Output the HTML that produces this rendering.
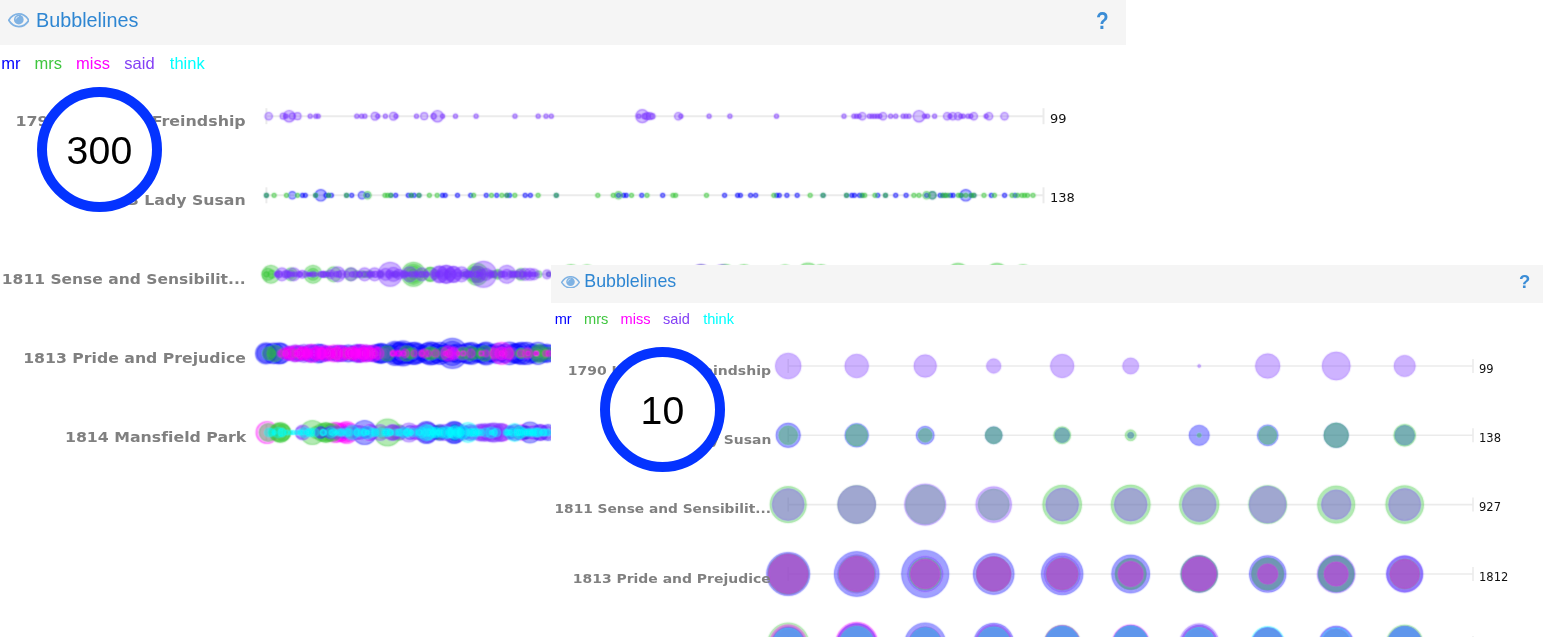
<!DOCTYPE html>
<html lang="en"><head><meta charset="utf-8"><title>Bubblelines</title>
<style>
html,body{margin:0;padding:0;background:#fff}
body{width:1543px;height:637px;position:relative;overflow:hidden;font-family:"Liberation Sans",sans-serif}
.panel{position:absolute;background:#fff;overflow:hidden}
.hdr{position:absolute;left:0;top:0;background:#f5f5f5}
.title{position:absolute;color:#2e86d2;white-space:nowrap}
.eye{position:absolute}
.help{position:absolute;color:#3b8dd6;font-weight:bold;font-family:"Liberation Sans",sans-serif}
.legend{position:absolute;left:0;white-space:nowrap}
.legend span{position:absolute;top:0}
.lbl{position:absolute;transform-origin:100% 50%;font-variant-ligatures:none;text-align:right;white-space:nowrap;color:#808080;font-weight:bold;font-family:"DejaVu Sans","Liberation Sans",sans-serif}
.val{position:absolute;color:#111;white-space:nowrap;font-family:"DejaVu Sans","Liberation Sans",sans-serif}
svg.chart{position:absolute;left:0;top:0}
.ring{position:absolute;box-sizing:border-box;border:10px solid #0433ff;border-radius:50%;background:#fff;width:125px;height:125px;text-align:center;color:#000;font-size:39.2px;line-height:107px;letter-spacing:0.2px;font-family:"Liberation Sans",sans-serif}
</style></head><body>

<div class="panel" id="panel1" style="left:0;top:0;width:1543px;height:637px">
<div class="hdr" style="width:1126px;height:45px"><svg class="eye" style="left:7.5px;top:13.4px;width:21.6px;height:14.6px" viewBox="0 0 28 18"><path d="M1 9 C5 2.5 9.5 0.8 14 0.8 C18.5 0.8 23 2.5 27 9 C23 15.5 18.5 17.2 14 17.2 C9.5 17.2 5 15.5 1 9 Z" fill="none" stroke="#7fb2e3" stroke-width="2.3"/><circle cx="14" cy="8.2" r="6.3" fill="#7fb2e3"/><path d="M10.2 7.4 A3.9 3.9 0 0 1 13.6 4" fill="none" stroke="#cfe2f5" stroke-width="1.3" stroke-linecap="round"/></svg><div class="title" id="t1" style="left:36px;top:8px;font-size:19.8px;line-height:24px">Bubblelines</div><div class="help" id="h1" style="left:1096px;top:8.5px;font-size:23px;line-height:24px;transform:scaleX(.9);transform-origin:0 0">?</div></div>
<div class="legend" id="l1" style="top:53px;font-size:16.5px;line-height:20px"><span style="left:1.2px;color:#0000ff">mr</span><span style="left:34.5px;color:#3fc63f">mrs</span><span style="left:76.1px;color:#ff00ff">miss</span><span style="left:124.3px;color:#8440f5">said</span><span style="left:169.8px;color:#00ffff">think</span></div>
<svg class="chart" width="1543" height="637" viewBox="0 0 1543 637"><defs><filter id="soft" x="-5%" y="-50%" width="110%" height="200%"><feConvolveMatrix order="3" kernelMatrix="0.04 0.11 0.04 0.11 0.40 0.11 0.04 0.11 0.04" divisor="1" edgeMode="none" preserveAlpha="false"/></filter></defs><line x1="266.4" y1="116.2" x2="1043.5" y2="116.2" stroke="#ebebeb" stroke-width="2"/>
<line x1="266.4" y1="108.2" x2="266.4" y2="124.2" stroke="#ebebeb" stroke-width="2"/>
<line x1="1043.5" y1="108.2" x2="1043.5" y2="124.2" stroke="#ebebeb" stroke-width="2"/>
<g filter="url(#soft)">
<circle cx="268.7" cy="116.2" r="3.7" fill="rgba(121,51,255,0.31)" stroke="rgba(121,51,255,0.58)" stroke-width="1.2"/>
<circle cx="283.2" cy="116.2" r="3.0" fill="rgba(121,51,255,0.31)" stroke="rgba(121,51,255,0.58)" stroke-width="1.2"/>
<circle cx="286.0" cy="116.2" r="2.0" fill="rgba(121,51,255,0.37)" stroke="rgba(121,51,255,0.70)" stroke-width="1.2"/>
<circle cx="289.2" cy="116.2" r="5.7" fill="rgba(121,51,255,0.31)" stroke="rgba(121,51,255,0.58)" stroke-width="1.2"/>
<circle cx="292.3" cy="116.2" r="3.0" fill="rgba(121,51,255,0.31)" stroke="rgba(121,51,255,0.58)" stroke-width="1.2"/>
<circle cx="297.5" cy="116.2" r="3.5" fill="rgba(121,51,255,0.31)" stroke="rgba(121,51,255,0.58)" stroke-width="1.2"/>
<circle cx="310.2" cy="116.2" r="2.0" fill="rgba(121,51,255,0.37)" stroke="rgba(121,51,255,0.70)" stroke-width="1.2"/>
<circle cx="315.9" cy="116.2" r="2.0" fill="rgba(121,51,255,0.37)" stroke="rgba(121,51,255,0.70)" stroke-width="1.2"/>
<circle cx="318.2" cy="116.2" r="2.0" fill="rgba(121,51,255,0.37)" stroke="rgba(121,51,255,0.70)" stroke-width="1.2"/>
<circle cx="356.8" cy="116.2" r="2.0" fill="rgba(121,51,255,0.37)" stroke="rgba(121,51,255,0.70)" stroke-width="1.2"/>
<circle cx="361.6" cy="116.2" r="2.0" fill="rgba(121,51,255,0.37)" stroke="rgba(121,51,255,0.70)" stroke-width="1.2"/>
<circle cx="364.9" cy="116.2" r="2.0" fill="rgba(121,51,255,0.37)" stroke="rgba(121,51,255,0.70)" stroke-width="1.2"/>
<circle cx="375.0" cy="116.2" r="3.9" fill="rgba(121,51,255,0.31)" stroke="rgba(121,51,255,0.58)" stroke-width="1.2"/>
<circle cx="377.8" cy="116.2" r="2.0" fill="rgba(121,51,255,0.37)" stroke="rgba(121,51,255,0.70)" stroke-width="1.2"/>
<circle cx="385.4" cy="116.2" r="2.0" fill="rgba(121,51,255,0.37)" stroke="rgba(121,51,255,0.70)" stroke-width="1.2"/>
<circle cx="393.4" cy="116.2" r="3.9" fill="rgba(121,51,255,0.31)" stroke="rgba(121,51,255,0.58)" stroke-width="1.2"/>
<circle cx="396.0" cy="116.2" r="2.0" fill="rgba(121,51,255,0.37)" stroke="rgba(121,51,255,0.70)" stroke-width="1.2"/>
<circle cx="416.5" cy="116.2" r="2.0" fill="rgba(121,51,255,0.37)" stroke="rgba(121,51,255,0.70)" stroke-width="1.2"/>
<circle cx="424.2" cy="116.2" r="3.5" fill="rgba(121,51,255,0.31)" stroke="rgba(121,51,255,0.58)" stroke-width="1.2"/>
<circle cx="433.6" cy="116.2" r="2.6" fill="rgba(121,51,255,0.37)" stroke="rgba(121,51,255,0.70)" stroke-width="1.2"/>
<circle cx="437.5" cy="116.2" r="5.7" fill="rgba(121,51,255,0.31)" stroke="rgba(121,51,255,0.58)" stroke-width="1.2"/>
<circle cx="442.6" cy="116.2" r="2.0" fill="rgba(121,51,255,0.37)" stroke="rgba(121,51,255,0.70)" stroke-width="1.2"/>
<circle cx="455.5" cy="116.2" r="2.0" fill="rgba(121,51,255,0.37)" stroke="rgba(121,51,255,0.70)" stroke-width="1.2"/>
<circle cx="476.1" cy="116.2" r="2.0" fill="rgba(121,51,255,0.37)" stroke="rgba(121,51,255,0.70)" stroke-width="1.2"/>
<circle cx="515.0" cy="116.2" r="2.0" fill="rgba(121,51,255,0.37)" stroke="rgba(121,51,255,0.70)" stroke-width="1.2"/>
<circle cx="538.2" cy="116.2" r="2.0" fill="rgba(121,51,255,0.37)" stroke="rgba(121,51,255,0.70)" stroke-width="1.2"/>
<circle cx="546.0" cy="116.2" r="2.0" fill="rgba(121,51,255,0.37)" stroke="rgba(121,51,255,0.70)" stroke-width="1.2"/>
<circle cx="551.3" cy="116.2" r="2.0" fill="rgba(121,51,255,0.37)" stroke="rgba(121,51,255,0.70)" stroke-width="1.2"/>
<circle cx="638.8" cy="116.2" r="2.0" fill="rgba(121,51,255,0.37)" stroke="rgba(121,51,255,0.70)" stroke-width="1.2"/>
<circle cx="642.3" cy="116.2" r="6.5" fill="rgba(121,51,255,0.31)" stroke="rgba(121,51,255,0.58)" stroke-width="1.2"/>
<circle cx="644.6" cy="116.2" r="2.6" fill="rgba(121,51,255,0.37)" stroke="rgba(121,51,255,0.70)" stroke-width="1.2"/>
<circle cx="647.2" cy="116.2" r="3.5" fill="rgba(121,51,255,0.31)" stroke="rgba(121,51,255,0.58)" stroke-width="1.2"/>
<circle cx="649.8" cy="116.2" r="3.5" fill="rgba(121,51,255,0.31)" stroke="rgba(121,51,255,0.58)" stroke-width="1.2"/>
<circle cx="652.4" cy="116.2" r="2.6" fill="rgba(121,51,255,0.37)" stroke="rgba(121,51,255,0.70)" stroke-width="1.2"/>
<circle cx="678.3" cy="116.2" r="3.7" fill="rgba(121,51,255,0.31)" stroke="rgba(121,51,255,0.58)" stroke-width="1.2"/>
<circle cx="680.9" cy="116.2" r="2.0" fill="rgba(121,51,255,0.37)" stroke="rgba(121,51,255,0.70)" stroke-width="1.2"/>
<circle cx="709.1" cy="116.2" r="2.0" fill="rgba(121,51,255,0.37)" stroke="rgba(121,51,255,0.70)" stroke-width="1.2"/>
<circle cx="729.9" cy="116.2" r="2.0" fill="rgba(121,51,255,0.37)" stroke="rgba(121,51,255,0.70)" stroke-width="1.2"/>
<circle cx="776.5" cy="116.2" r="2.0" fill="rgba(121,51,255,0.37)" stroke="rgba(121,51,255,0.70)" stroke-width="1.2"/>
<circle cx="844.0" cy="116.2" r="2.0" fill="rgba(121,51,255,0.37)" stroke="rgba(121,51,255,0.70)" stroke-width="1.2"/>
<circle cx="853.9" cy="116.2" r="2.0" fill="rgba(121,51,255,0.37)" stroke="rgba(121,51,255,0.70)" stroke-width="1.2"/>
<circle cx="856.5" cy="116.2" r="2.0" fill="rgba(121,51,255,0.37)" stroke="rgba(121,51,255,0.70)" stroke-width="1.2"/>
<circle cx="859.1" cy="116.2" r="2.0" fill="rgba(121,51,255,0.37)" stroke="rgba(121,51,255,0.70)" stroke-width="1.2"/>
<circle cx="862.3" cy="116.2" r="3.7" fill="rgba(121,51,255,0.31)" stroke="rgba(121,51,255,0.58)" stroke-width="1.2"/>
<circle cx="869.4" cy="116.2" r="2.0" fill="rgba(121,51,255,0.37)" stroke="rgba(121,51,255,0.70)" stroke-width="1.2"/>
<circle cx="872.0" cy="116.2" r="2.0" fill="rgba(121,51,255,0.37)" stroke="rgba(121,51,255,0.70)" stroke-width="1.2"/>
<circle cx="874.6" cy="116.2" r="2.0" fill="rgba(121,51,255,0.37)" stroke="rgba(121,51,255,0.70)" stroke-width="1.2"/>
<circle cx="877.2" cy="116.2" r="2.0" fill="rgba(121,51,255,0.37)" stroke="rgba(121,51,255,0.70)" stroke-width="1.2"/>
<circle cx="879.8" cy="116.2" r="2.0" fill="rgba(121,51,255,0.37)" stroke="rgba(121,51,255,0.70)" stroke-width="1.2"/>
<circle cx="883.0" cy="116.2" r="3.7" fill="rgba(121,51,255,0.31)" stroke="rgba(121,51,255,0.58)" stroke-width="1.2"/>
<circle cx="890.6" cy="116.2" r="2.0" fill="rgba(121,51,255,0.37)" stroke="rgba(121,51,255,0.70)" stroke-width="1.2"/>
<circle cx="895.8" cy="116.2" r="2.0" fill="rgba(121,51,255,0.37)" stroke="rgba(121,51,255,0.70)" stroke-width="1.2"/>
<circle cx="903.1" cy="116.2" r="2.0" fill="rgba(121,51,255,0.37)" stroke="rgba(121,51,255,0.70)" stroke-width="1.2"/>
<circle cx="906.0" cy="116.2" r="2.0" fill="rgba(121,51,255,0.37)" stroke="rgba(121,51,255,0.70)" stroke-width="1.2"/>
<circle cx="909.0" cy="116.2" r="2.0" fill="rgba(121,51,255,0.37)" stroke="rgba(121,51,255,0.70)" stroke-width="1.2"/>
<circle cx="919.0" cy="116.2" r="5.7" fill="rgba(121,51,255,0.31)" stroke="rgba(121,51,255,0.58)" stroke-width="1.2"/>
<circle cx="924.5" cy="116.2" r="2.0" fill="rgba(121,51,255,0.37)" stroke="rgba(121,51,255,0.70)" stroke-width="1.2"/>
<circle cx="927.5" cy="116.2" r="2.0" fill="rgba(121,51,255,0.37)" stroke="rgba(121,51,255,0.70)" stroke-width="1.2"/>
<circle cx="934.6" cy="116.2" r="2.0" fill="rgba(121,51,255,0.37)" stroke="rgba(121,51,255,0.70)" stroke-width="1.2"/>
<circle cx="947.2" cy="116.2" r="3.7" fill="rgba(121,51,255,0.31)" stroke="rgba(121,51,255,0.58)" stroke-width="1.2"/>
<circle cx="950.0" cy="116.2" r="2.0" fill="rgba(121,51,255,0.37)" stroke="rgba(121,51,255,0.70)" stroke-width="1.2"/>
<circle cx="952.8" cy="116.2" r="3.7" fill="rgba(121,51,255,0.31)" stroke="rgba(121,51,255,0.58)" stroke-width="1.2"/>
<circle cx="958.0" cy="116.2" r="3.7" fill="rgba(121,51,255,0.31)" stroke="rgba(121,51,255,0.58)" stroke-width="1.2"/>
<circle cx="960.8" cy="116.2" r="2.0" fill="rgba(121,51,255,0.37)" stroke="rgba(121,51,255,0.70)" stroke-width="1.2"/>
<circle cx="963.2" cy="116.2" r="2.0" fill="rgba(121,51,255,0.37)" stroke="rgba(121,51,255,0.70)" stroke-width="1.2"/>
<circle cx="968.0" cy="116.2" r="2.0" fill="rgba(121,51,255,0.37)" stroke="rgba(121,51,255,0.70)" stroke-width="1.2"/>
<circle cx="970.8" cy="116.2" r="2.0" fill="rgba(121,51,255,0.37)" stroke="rgba(121,51,255,0.70)" stroke-width="1.2"/>
<circle cx="973.8" cy="116.2" r="3.7" fill="rgba(121,51,255,0.31)" stroke="rgba(121,51,255,0.58)" stroke-width="1.2"/>
<circle cx="986.1" cy="116.2" r="2.0" fill="rgba(121,51,255,0.37)" stroke="rgba(121,51,255,0.70)" stroke-width="1.2"/>
<circle cx="989.0" cy="116.2" r="3.7" fill="rgba(121,51,255,0.31)" stroke="rgba(121,51,255,0.58)" stroke-width="1.2"/>
<circle cx="1004.5" cy="116.2" r="3.7" fill="rgba(121,51,255,0.31)" stroke="rgba(121,51,255,0.58)" stroke-width="1.2"/>
</g>
<line x1="266.4" y1="195.3" x2="1043.5" y2="195.3" stroke="#ebebeb" stroke-width="2"/>
<line x1="266.4" y1="187.3" x2="266.4" y2="203.3" stroke="#ebebeb" stroke-width="2"/>
<line x1="1043.5" y1="187.3" x2="1043.5" y2="203.3" stroke="#ebebeb" stroke-width="2"/>
<g filter="url(#soft)">
<circle cx="266.4" cy="195.3" r="2.0" fill="rgba(0,0,255,0.37)" stroke="rgba(0,0,255,0.70)" stroke-width="1.2"/>
<circle cx="292.3" cy="195.3" r="3.7" fill="rgba(0,0,255,0.31)" stroke="rgba(0,0,255,0.58)" stroke-width="1.2"/>
<circle cx="302.4" cy="195.3" r="2.0" fill="rgba(0,0,255,0.37)" stroke="rgba(0,0,255,0.70)" stroke-width="1.2"/>
<circle cx="305.3" cy="195.3" r="2.0" fill="rgba(0,0,255,0.37)" stroke="rgba(0,0,255,0.70)" stroke-width="1.2"/>
<circle cx="315.6" cy="195.3" r="2.0" fill="rgba(0,0,255,0.37)" stroke="rgba(0,0,255,0.70)" stroke-width="1.2"/>
<circle cx="320.8" cy="195.3" r="5.7" fill="rgba(0,0,255,0.31)" stroke="rgba(0,0,255,0.58)" stroke-width="1.2"/>
<circle cx="326.0" cy="195.3" r="2.0" fill="rgba(0,0,255,0.37)" stroke="rgba(0,0,255,0.70)" stroke-width="1.2"/>
<circle cx="328.6" cy="195.3" r="2.0" fill="rgba(0,0,255,0.37)" stroke="rgba(0,0,255,0.70)" stroke-width="1.2"/>
<circle cx="331.4" cy="195.3" r="2.0" fill="rgba(0,0,255,0.37)" stroke="rgba(0,0,255,0.70)" stroke-width="1.2"/>
<circle cx="346.5" cy="195.3" r="2.0" fill="rgba(0,0,255,0.37)" stroke="rgba(0,0,255,0.70)" stroke-width="1.2"/>
<circle cx="351.7" cy="195.3" r="2.0" fill="rgba(0,0,255,0.37)" stroke="rgba(0,0,255,0.70)" stroke-width="1.2"/>
<circle cx="362.0" cy="195.3" r="3.7" fill="rgba(0,0,255,0.31)" stroke="rgba(0,0,255,0.58)" stroke-width="1.2"/>
<circle cx="367.5" cy="195.3" r="2.0" fill="rgba(0,0,255,0.37)" stroke="rgba(0,0,255,0.70)" stroke-width="1.2"/>
<circle cx="390.8" cy="195.3" r="2.0" fill="rgba(0,0,255,0.37)" stroke="rgba(0,0,255,0.70)" stroke-width="1.2"/>
<circle cx="395.7" cy="195.3" r="2.0" fill="rgba(0,0,255,0.37)" stroke="rgba(0,0,255,0.70)" stroke-width="1.2"/>
<circle cx="408.3" cy="195.3" r="2.0" fill="rgba(0,0,255,0.37)" stroke="rgba(0,0,255,0.70)" stroke-width="1.2"/>
<circle cx="411.3" cy="195.3" r="2.0" fill="rgba(0,0,255,0.37)" stroke="rgba(0,0,255,0.70)" stroke-width="1.2"/>
<circle cx="414.1" cy="195.3" r="2.0" fill="rgba(0,0,255,0.37)" stroke="rgba(0,0,255,0.70)" stroke-width="1.2"/>
<circle cx="419.0" cy="195.3" r="2.0" fill="rgba(0,0,255,0.37)" stroke="rgba(0,0,255,0.70)" stroke-width="1.2"/>
<circle cx="442.4" cy="195.3" r="2.0" fill="rgba(0,0,255,0.37)" stroke="rgba(0,0,255,0.70)" stroke-width="1.2"/>
<circle cx="445.2" cy="195.3" r="2.0" fill="rgba(0,0,255,0.37)" stroke="rgba(0,0,255,0.70)" stroke-width="1.2"/>
<circle cx="457.5" cy="195.3" r="2.0" fill="rgba(0,0,255,0.37)" stroke="rgba(0,0,255,0.70)" stroke-width="1.2"/>
<circle cx="470.7" cy="195.3" r="2.0" fill="rgba(0,0,255,0.37)" stroke="rgba(0,0,255,0.70)" stroke-width="1.2"/>
<circle cx="486.3" cy="195.3" r="2.0" fill="rgba(0,0,255,0.37)" stroke="rgba(0,0,255,0.70)" stroke-width="1.2"/>
<circle cx="496.7" cy="195.3" r="2.0" fill="rgba(0,0,255,0.37)" stroke="rgba(0,0,255,0.70)" stroke-width="1.2"/>
<circle cx="507.0" cy="195.3" r="2.0" fill="rgba(0,0,255,0.37)" stroke="rgba(0,0,255,0.70)" stroke-width="1.2"/>
<circle cx="509.6" cy="195.3" r="2.0" fill="rgba(0,0,255,0.37)" stroke="rgba(0,0,255,0.70)" stroke-width="1.2"/>
<circle cx="525.2" cy="195.3" r="2.0" fill="rgba(0,0,255,0.37)" stroke="rgba(0,0,255,0.70)" stroke-width="1.2"/>
<circle cx="530.4" cy="195.3" r="2.0" fill="rgba(0,0,255,0.37)" stroke="rgba(0,0,255,0.70)" stroke-width="1.2"/>
<circle cx="556.3" cy="195.3" r="2.0" fill="rgba(0,0,255,0.37)" stroke="rgba(0,0,255,0.70)" stroke-width="1.2"/>
<circle cx="618.5" cy="195.3" r="2.0" fill="rgba(0,0,255,0.37)" stroke="rgba(0,0,255,0.70)" stroke-width="1.2"/>
<circle cx="623.7" cy="195.3" r="2.0" fill="rgba(0,0,255,0.37)" stroke="rgba(0,0,255,0.70)" stroke-width="1.2"/>
<circle cx="626.3" cy="195.3" r="2.0" fill="rgba(0,0,255,0.37)" stroke="rgba(0,0,255,0.70)" stroke-width="1.2"/>
<circle cx="641.8" cy="195.3" r="2.0" fill="rgba(0,0,255,0.37)" stroke="rgba(0,0,255,0.70)" stroke-width="1.2"/>
<circle cx="662.7" cy="195.3" r="2.0" fill="rgba(0,0,255,0.37)" stroke="rgba(0,0,255,0.70)" stroke-width="1.2"/>
<circle cx="724.6" cy="195.3" r="2.0" fill="rgba(0,0,255,0.37)" stroke="rgba(0,0,255,0.70)" stroke-width="1.2"/>
<circle cx="737.6" cy="195.3" r="2.0" fill="rgba(0,0,255,0.37)" stroke="rgba(0,0,255,0.70)" stroke-width="1.2"/>
<circle cx="740.4" cy="195.3" r="2.0" fill="rgba(0,0,255,0.37)" stroke="rgba(0,0,255,0.70)" stroke-width="1.2"/>
<circle cx="750.6" cy="195.3" r="2.0" fill="rgba(0,0,255,0.37)" stroke="rgba(0,0,255,0.70)" stroke-width="1.2"/>
<circle cx="755.7" cy="195.3" r="2.0" fill="rgba(0,0,255,0.37)" stroke="rgba(0,0,255,0.70)" stroke-width="1.2"/>
<circle cx="776.7" cy="195.3" r="2.0" fill="rgba(0,0,255,0.37)" stroke="rgba(0,0,255,0.70)" stroke-width="1.2"/>
<circle cx="779.3" cy="195.3" r="2.0" fill="rgba(0,0,255,0.37)" stroke="rgba(0,0,255,0.70)" stroke-width="1.2"/>
<circle cx="786.9" cy="195.3" r="2.0" fill="rgba(0,0,255,0.37)" stroke="rgba(0,0,255,0.70)" stroke-width="1.2"/>
<circle cx="797.2" cy="195.3" r="2.0" fill="rgba(0,0,255,0.37)" stroke="rgba(0,0,255,0.70)" stroke-width="1.2"/>
<circle cx="823.1" cy="195.3" r="2.0" fill="rgba(0,0,255,0.37)" stroke="rgba(0,0,255,0.70)" stroke-width="1.2"/>
<circle cx="846.5" cy="195.3" r="2.0" fill="rgba(0,0,255,0.37)" stroke="rgba(0,0,255,0.70)" stroke-width="1.2"/>
<circle cx="851.8" cy="195.3" r="2.0" fill="rgba(0,0,255,0.37)" stroke="rgba(0,0,255,0.70)" stroke-width="1.2"/>
<circle cx="854.4" cy="195.3" r="2.0" fill="rgba(0,0,255,0.37)" stroke="rgba(0,0,255,0.70)" stroke-width="1.2"/>
<circle cx="859.6" cy="195.3" r="2.0" fill="rgba(0,0,255,0.37)" stroke="rgba(0,0,255,0.70)" stroke-width="1.2"/>
<circle cx="862.1" cy="195.3" r="2.0" fill="rgba(0,0,255,0.37)" stroke="rgba(0,0,255,0.70)" stroke-width="1.2"/>
<circle cx="877.7" cy="195.3" r="2.0" fill="rgba(0,0,255,0.37)" stroke="rgba(0,0,255,0.70)" stroke-width="1.2"/>
<circle cx="885.5" cy="195.3" r="2.0" fill="rgba(0,0,255,0.37)" stroke="rgba(0,0,255,0.70)" stroke-width="1.2"/>
<circle cx="895.7" cy="195.3" r="2.0" fill="rgba(0,0,255,0.37)" stroke="rgba(0,0,255,0.70)" stroke-width="1.2"/>
<circle cx="906.1" cy="195.3" r="2.0" fill="rgba(0,0,255,0.37)" stroke="rgba(0,0,255,0.70)" stroke-width="1.2"/>
<circle cx="926.6" cy="195.3" r="2.0" fill="rgba(0,0,255,0.37)" stroke="rgba(0,0,255,0.70)" stroke-width="1.2"/>
<circle cx="932.4" cy="195.3" r="3.7" fill="rgba(0,0,255,0.31)" stroke="rgba(0,0,255,0.58)" stroke-width="1.2"/>
<circle cx="940.2" cy="195.3" r="2.0" fill="rgba(0,0,255,0.37)" stroke="rgba(0,0,255,0.70)" stroke-width="1.2"/>
<circle cx="942.8" cy="195.3" r="2.0" fill="rgba(0,0,255,0.37)" stroke="rgba(0,0,255,0.70)" stroke-width="1.2"/>
<circle cx="945.4" cy="195.3" r="2.0" fill="rgba(0,0,255,0.37)" stroke="rgba(0,0,255,0.70)" stroke-width="1.2"/>
<circle cx="950.5" cy="195.3" r="2.0" fill="rgba(0,0,255,0.37)" stroke="rgba(0,0,255,0.70)" stroke-width="1.2"/>
<circle cx="953.1" cy="195.3" r="2.0" fill="rgba(0,0,255,0.37)" stroke="rgba(0,0,255,0.70)" stroke-width="1.2"/>
<circle cx="961.0" cy="195.3" r="2.0" fill="rgba(0,0,255,0.37)" stroke="rgba(0,0,255,0.70)" stroke-width="1.2"/>
<circle cx="965.8" cy="195.3" r="5.7" fill="rgba(0,0,255,0.31)" stroke="rgba(0,0,255,0.58)" stroke-width="1.2"/>
<circle cx="971.3" cy="195.3" r="2.0" fill="rgba(0,0,255,0.37)" stroke="rgba(0,0,255,0.70)" stroke-width="1.2"/>
<circle cx="973.9" cy="195.3" r="2.0" fill="rgba(0,0,255,0.37)" stroke="rgba(0,0,255,0.70)" stroke-width="1.2"/>
<circle cx="991.4" cy="195.3" r="2.0" fill="rgba(0,0,255,0.37)" stroke="rgba(0,0,255,0.70)" stroke-width="1.2"/>
<circle cx="1004.6" cy="195.3" r="2.0" fill="rgba(0,0,255,0.37)" stroke="rgba(0,0,255,0.70)" stroke-width="1.2"/>
<circle cx="1015.1" cy="195.3" r="2.0" fill="rgba(0,0,255,0.37)" stroke="rgba(0,0,255,0.70)" stroke-width="1.2"/>
<circle cx="266.4" cy="195.3" r="2.0" fill="rgba(51,197,51,0.37)" stroke="rgba(51,197,51,0.70)" stroke-width="1.2"/>
<circle cx="274.1" cy="195.3" r="2.0" fill="rgba(51,197,51,0.37)" stroke="rgba(51,197,51,0.70)" stroke-width="1.2"/>
<circle cx="286.5" cy="195.3" r="2.0" fill="rgba(51,197,51,0.37)" stroke="rgba(51,197,51,0.70)" stroke-width="1.2"/>
<circle cx="297.5" cy="195.3" r="2.0" fill="rgba(51,197,51,0.37)" stroke="rgba(51,197,51,0.70)" stroke-width="1.2"/>
<circle cx="315.6" cy="195.3" r="2.0" fill="rgba(51,197,51,0.37)" stroke="rgba(51,197,51,0.70)" stroke-width="1.2"/>
<circle cx="328.6" cy="195.3" r="2.0" fill="rgba(51,197,51,0.37)" stroke="rgba(51,197,51,0.70)" stroke-width="1.2"/>
<circle cx="346.5" cy="195.3" r="2.0" fill="rgba(51,197,51,0.37)" stroke="rgba(51,197,51,0.70)" stroke-width="1.2"/>
<circle cx="367.5" cy="195.3" r="3.7" fill="rgba(51,197,51,0.31)" stroke="rgba(51,197,51,0.58)" stroke-width="1.2"/>
<circle cx="385.0" cy="195.3" r="2.0" fill="rgba(51,197,51,0.37)" stroke="rgba(51,197,51,0.70)" stroke-width="1.2"/>
<circle cx="387.6" cy="195.3" r="2.0" fill="rgba(51,197,51,0.37)" stroke="rgba(51,197,51,0.70)" stroke-width="1.2"/>
<circle cx="390.8" cy="195.3" r="2.0" fill="rgba(51,197,51,0.37)" stroke="rgba(51,197,51,0.70)" stroke-width="1.2"/>
<circle cx="411.3" cy="195.3" r="2.0" fill="rgba(51,197,51,0.37)" stroke="rgba(51,197,51,0.70)" stroke-width="1.2"/>
<circle cx="419.0" cy="195.3" r="2.0" fill="rgba(51,197,51,0.37)" stroke="rgba(51,197,51,0.70)" stroke-width="1.2"/>
<circle cx="429.4" cy="195.3" r="2.0" fill="rgba(51,197,51,0.37)" stroke="rgba(51,197,51,0.70)" stroke-width="1.2"/>
<circle cx="437.2" cy="195.3" r="2.0" fill="rgba(51,197,51,0.37)" stroke="rgba(51,197,51,0.70)" stroke-width="1.2"/>
<circle cx="473.6" cy="195.3" r="2.0" fill="rgba(51,197,51,0.37)" stroke="rgba(51,197,51,0.70)" stroke-width="1.2"/>
<circle cx="491.5" cy="195.3" r="2.0" fill="rgba(51,197,51,0.37)" stroke="rgba(51,197,51,0.70)" stroke-width="1.2"/>
<circle cx="501.8" cy="195.3" r="2.0" fill="rgba(51,197,51,0.37)" stroke="rgba(51,197,51,0.70)" stroke-width="1.2"/>
<circle cx="507.0" cy="195.3" r="2.0" fill="rgba(51,197,51,0.37)" stroke="rgba(51,197,51,0.70)" stroke-width="1.2"/>
<circle cx="514.8" cy="195.3" r="2.0" fill="rgba(51,197,51,0.37)" stroke="rgba(51,197,51,0.70)" stroke-width="1.2"/>
<circle cx="538.1" cy="195.3" r="2.0" fill="rgba(51,197,51,0.37)" stroke="rgba(51,197,51,0.70)" stroke-width="1.2"/>
<circle cx="556.3" cy="195.3" r="2.0" fill="rgba(51,197,51,0.37)" stroke="rgba(51,197,51,0.70)" stroke-width="1.2"/>
<circle cx="597.8" cy="195.3" r="2.0" fill="rgba(51,197,51,0.37)" stroke="rgba(51,197,51,0.70)" stroke-width="1.2"/>
<circle cx="613.3" cy="195.3" r="2.0" fill="rgba(51,197,51,0.37)" stroke="rgba(51,197,51,0.70)" stroke-width="1.2"/>
<circle cx="618.5" cy="195.3" r="3.7" fill="rgba(51,197,51,0.31)" stroke="rgba(51,197,51,0.58)" stroke-width="1.2"/>
<circle cx="631.5" cy="195.3" r="2.0" fill="rgba(51,197,51,0.37)" stroke="rgba(51,197,51,0.70)" stroke-width="1.2"/>
<circle cx="647.0" cy="195.3" r="2.0" fill="rgba(51,197,51,0.37)" stroke="rgba(51,197,51,0.70)" stroke-width="1.2"/>
<circle cx="673.0" cy="195.3" r="2.0" fill="rgba(51,197,51,0.37)" stroke="rgba(51,197,51,0.70)" stroke-width="1.2"/>
<circle cx="675.6" cy="195.3" r="2.0" fill="rgba(51,197,51,0.37)" stroke="rgba(51,197,51,0.70)" stroke-width="1.2"/>
<circle cx="706.5" cy="195.3" r="2.0" fill="rgba(51,197,51,0.37)" stroke="rgba(51,197,51,0.70)" stroke-width="1.2"/>
<circle cx="773.9" cy="195.3" r="2.0" fill="rgba(51,197,51,0.37)" stroke="rgba(51,197,51,0.70)" stroke-width="1.2"/>
<circle cx="810.2" cy="195.3" r="2.0" fill="rgba(51,197,51,0.37)" stroke="rgba(51,197,51,0.70)" stroke-width="1.2"/>
<circle cx="823.1" cy="195.3" r="2.0" fill="rgba(51,197,51,0.37)" stroke="rgba(51,197,51,0.70)" stroke-width="1.2"/>
<circle cx="846.5" cy="195.3" r="2.0" fill="rgba(51,197,51,0.37)" stroke="rgba(51,197,51,0.70)" stroke-width="1.2"/>
<circle cx="862.1" cy="195.3" r="2.0" fill="rgba(51,197,51,0.37)" stroke="rgba(51,197,51,0.70)" stroke-width="1.2"/>
<circle cx="864.7" cy="195.3" r="2.0" fill="rgba(51,197,51,0.37)" stroke="rgba(51,197,51,0.70)" stroke-width="1.2"/>
<circle cx="875.0" cy="195.3" r="2.0" fill="rgba(51,197,51,0.37)" stroke="rgba(51,197,51,0.70)" stroke-width="1.2"/>
<circle cx="885.5" cy="195.3" r="2.0" fill="rgba(51,197,51,0.37)" stroke="rgba(51,197,51,0.70)" stroke-width="1.2"/>
<circle cx="913.9" cy="195.3" r="2.0" fill="rgba(51,197,51,0.37)" stroke="rgba(51,197,51,0.70)" stroke-width="1.2"/>
<circle cx="919.0" cy="195.3" r="2.0" fill="rgba(51,197,51,0.37)" stroke="rgba(51,197,51,0.70)" stroke-width="1.2"/>
<circle cx="926.6" cy="195.3" r="3.7" fill="rgba(51,197,51,0.31)" stroke="rgba(51,197,51,0.58)" stroke-width="1.2"/>
<circle cx="932.4" cy="195.3" r="3.7" fill="rgba(51,197,51,0.31)" stroke="rgba(51,197,51,0.58)" stroke-width="1.2"/>
<circle cx="942.8" cy="195.3" r="2.0" fill="rgba(51,197,51,0.37)" stroke="rgba(51,197,51,0.70)" stroke-width="1.2"/>
<circle cx="945.4" cy="195.3" r="2.0" fill="rgba(51,197,51,0.37)" stroke="rgba(51,197,51,0.70)" stroke-width="1.2"/>
<circle cx="948.0" cy="195.3" r="2.0" fill="rgba(51,197,51,0.37)" stroke="rgba(51,197,51,0.70)" stroke-width="1.2"/>
<circle cx="958.3" cy="195.3" r="2.0" fill="rgba(51,197,51,0.37)" stroke="rgba(51,197,51,0.70)" stroke-width="1.2"/>
<circle cx="961.0" cy="195.3" r="2.0" fill="rgba(51,197,51,0.37)" stroke="rgba(51,197,51,0.70)" stroke-width="1.2"/>
<circle cx="965.8" cy="195.3" r="2.0" fill="rgba(51,197,51,0.37)" stroke="rgba(51,197,51,0.70)" stroke-width="1.2"/>
<circle cx="971.3" cy="195.3" r="2.0" fill="rgba(51,197,51,0.37)" stroke="rgba(51,197,51,0.70)" stroke-width="1.2"/>
<circle cx="973.9" cy="195.3" r="2.0" fill="rgba(51,197,51,0.37)" stroke="rgba(51,197,51,0.70)" stroke-width="1.2"/>
<circle cx="984.0" cy="195.3" r="2.0" fill="rgba(51,197,51,0.37)" stroke="rgba(51,197,51,0.70)" stroke-width="1.2"/>
<circle cx="994.4" cy="195.3" r="2.0" fill="rgba(51,197,51,0.37)" stroke="rgba(51,197,51,0.70)" stroke-width="1.2"/>
<circle cx="1012.1" cy="195.3" r="2.0" fill="rgba(51,197,51,0.37)" stroke="rgba(51,197,51,0.70)" stroke-width="1.2"/>
<circle cx="1017.5" cy="195.3" r="2.0" fill="rgba(51,197,51,0.37)" stroke="rgba(51,197,51,0.70)" stroke-width="1.2"/>
<circle cx="1022.0" cy="195.3" r="2.0" fill="rgba(51,197,51,0.37)" stroke="rgba(51,197,51,0.70)" stroke-width="1.2"/>
<circle cx="1024.6" cy="195.3" r="2.0" fill="rgba(51,197,51,0.37)" stroke="rgba(51,197,51,0.70)" stroke-width="1.2"/>
<circle cx="1027.5" cy="195.3" r="2.0" fill="rgba(51,197,51,0.37)" stroke="rgba(51,197,51,0.70)" stroke-width="1.2"/>
<circle cx="1033.0" cy="195.3" r="2.0" fill="rgba(51,197,51,0.37)" stroke="rgba(51,197,51,0.70)" stroke-width="1.2"/>
</g>
<line x1="266.4" y1="274.3" x2="1043.5" y2="274.3" stroke="#ebebeb" stroke-width="2"/>
<line x1="266.4" y1="266.3" x2="266.4" y2="282.3" stroke="#ebebeb" stroke-width="2"/>
<line x1="1043.5" y1="266.3" x2="1043.5" y2="282.3" stroke="#ebebeb" stroke-width="2"/>
<g filter="url(#soft)">
<circle cx="413.5" cy="274.3" r="12.0" fill="rgba(51,197,51,0.37)" stroke="rgba(51,197,51,0.42)" stroke-width="1.2"/>
<circle cx="808.0" cy="274.3" r="11.2" fill="rgba(51,197,51,0.37)" stroke="rgba(51,197,51,0.42)" stroke-width="1.2"/>
<circle cx="477.0" cy="274.3" r="11.0" fill="rgba(51,197,51,0.37)" stroke="rgba(51,197,51,0.42)" stroke-width="1.2"/>
<circle cx="958.0" cy="274.3" r="11.0" fill="rgba(51,197,51,0.37)" stroke="rgba(51,197,51,0.42)" stroke-width="1.2"/>
<circle cx="997.0" cy="274.3" r="11.0" fill="rgba(51,197,51,0.37)" stroke="rgba(51,197,51,0.42)" stroke-width="1.2"/>
<circle cx="725.0" cy="274.3" r="10.0" fill="rgba(51,197,51,0.37)" stroke="rgba(51,197,51,0.42)" stroke-width="1.2"/>
<circle cx="413.5" cy="274.3" r="10.0" fill="rgba(51,197,51,0.37)" stroke="rgba(51,197,51,0.42)" stroke-width="1.2"/>
<circle cx="571.0" cy="274.3" r="9.7" fill="rgba(51,197,51,0.37)" stroke="rgba(51,197,51,0.42)" stroke-width="1.2"/>
<circle cx="744.0" cy="274.3" r="9.7" fill="rgba(51,197,51,0.37)" stroke="rgba(51,197,51,0.42)" stroke-width="1.2"/>
<circle cx="821.0" cy="274.3" r="9.7" fill="rgba(51,197,51,0.37)" stroke="rgba(51,197,51,0.42)" stroke-width="1.2"/>
<circle cx="1023.0" cy="274.3" r="9.6" fill="rgba(51,197,51,0.37)" stroke="rgba(51,197,51,0.42)" stroke-width="1.2"/>
<circle cx="587.0" cy="274.3" r="9.5" fill="rgba(51,197,51,0.37)" stroke="rgba(51,197,51,0.42)" stroke-width="1.2"/>
<circle cx="701.0" cy="274.3" r="9.5" fill="rgba(51,197,51,0.37)" stroke="rgba(51,197,51,0.42)" stroke-width="1.2"/>
<circle cx="785.0" cy="274.3" r="9.5" fill="rgba(51,197,51,0.37)" stroke="rgba(51,197,51,0.42)" stroke-width="1.2"/>
<circle cx="270.9" cy="274.3" r="9.0" fill="rgba(51,197,51,0.37)" stroke="rgba(51,197,51,0.42)" stroke-width="1.2"/>
<circle cx="313.0" cy="274.3" r="9.0" fill="rgba(51,197,51,0.37)" stroke="rgba(51,197,51,0.42)" stroke-width="1.2"/>
<circle cx="477.0" cy="274.3" r="8.5" fill="rgba(51,197,51,0.37)" stroke="rgba(51,197,51,0.42)" stroke-width="1.2"/>
<circle cx="413.5" cy="274.3" r="8.0" fill="rgba(51,197,51,0.37)" stroke="rgba(51,197,51,0.42)" stroke-width="1.2"/>
<circle cx="475.0" cy="274.3" r="8.0" fill="rgba(51,197,51,0.37)" stroke="rgba(51,197,51,0.42)" stroke-width="1.2"/>
<circle cx="333.8" cy="274.3" r="7.5" fill="rgba(51,197,51,0.37)" stroke="rgba(51,197,51,0.42)" stroke-width="1.2"/>
<circle cx="430.3" cy="274.3" r="7.0" fill="rgba(51,197,51,0.37)" stroke="rgba(51,197,51,0.42)" stroke-width="1.2"/>
<circle cx="430.4" cy="274.3" r="7.0" fill="rgba(51,197,51,0.37)" stroke="rgba(51,197,51,0.42)" stroke-width="1.2"/>
<circle cx="291.0" cy="274.3" r="6.5" fill="rgba(51,197,51,0.37)" stroke="rgba(51,197,51,0.42)" stroke-width="1.2"/>
<circle cx="350.6" cy="274.3" r="6.5" fill="rgba(51,197,51,0.37)" stroke="rgba(51,197,51,0.42)" stroke-width="1.2"/>
<circle cx="313.0" cy="274.3" r="6.0" fill="rgba(51,197,51,0.37)" stroke="rgba(51,197,51,0.42)" stroke-width="1.2"/>
<circle cx="521.0" cy="274.3" r="6.0" fill="rgba(51,197,51,0.37)" stroke="rgba(51,197,51,0.42)" stroke-width="1.2"/>
<circle cx="268.0" cy="274.3" r="6.0" fill="rgba(51,197,51,0.37)" stroke="rgba(51,197,51,0.42)" stroke-width="1.2"/>
<circle cx="477.0" cy="274.3" r="6.0" fill="rgba(51,197,51,0.37)" stroke="rgba(51,197,51,0.42)" stroke-width="1.2"/>
<circle cx="497.8" cy="274.3" r="5.0" fill="rgba(51,197,51,0.37)" stroke="rgba(51,197,51,0.42)" stroke-width="1.2"/>
<circle cx="413.5" cy="274.3" r="5.0" fill="rgba(51,197,51,0.37)" stroke="rgba(51,197,51,0.42)" stroke-width="1.2"/>
<circle cx="272.0" cy="274.3" r="4.0" fill="rgba(51,197,51,0.37)" stroke="rgba(51,197,51,0.42)" stroke-width="1.2"/>
<circle cx="291.0" cy="274.3" r="4.0" fill="rgba(51,197,51,0.37)" stroke="rgba(51,197,51,0.42)" stroke-width="1.2"/>
<circle cx="512.5" cy="274.3" r="3.8" fill="rgba(51,197,51,0.37)" stroke="rgba(51,197,51,0.42)" stroke-width="1.2"/>
<circle cx="496.9" cy="274.3" r="3.8" fill="rgba(51,197,51,0.37)" stroke="rgba(51,197,51,0.42)" stroke-width="1.2"/>
<circle cx="370.0" cy="274.3" r="3.7" fill="rgba(51,197,51,0.37)" stroke="rgba(51,197,51,0.42)" stroke-width="1.2"/>
<circle cx="447.7" cy="274.3" r="3.6" fill="rgba(51,197,51,0.37)" stroke="rgba(51,197,51,0.42)" stroke-width="1.2"/>
<circle cx="357.1" cy="274.3" r="3.6" fill="rgba(51,197,51,0.37)" stroke="rgba(51,197,51,0.42)" stroke-width="1.2"/>
<circle cx="313.0" cy="274.3" r="3.5" fill="rgba(51,197,51,0.37)" stroke="rgba(51,197,51,0.42)" stroke-width="1.2"/>
<circle cx="494.3" cy="274.3" r="3.5" fill="rgba(51,197,51,0.37)" stroke="rgba(51,197,51,0.42)" stroke-width="1.2"/>
<circle cx="362.2" cy="274.3" r="3.5" fill="rgba(51,197,51,0.37)" stroke="rgba(51,197,51,0.42)" stroke-width="1.2"/>
<circle cx="491.8" cy="274.3" r="3.4" fill="rgba(51,197,51,0.37)" stroke="rgba(51,197,51,0.42)" stroke-width="1.2"/>
<circle cx="538.4" cy="274.3" r="3.4" fill="rgba(51,197,51,0.37)" stroke="rgba(51,197,51,0.42)" stroke-width="1.2"/>
<circle cx="424.4" cy="274.3" r="3.1" fill="rgba(51,197,51,0.37)" stroke="rgba(51,197,51,0.42)" stroke-width="1.2"/>
<circle cx="395.9" cy="274.3" r="3.0" fill="rgba(51,197,51,0.37)" stroke="rgba(51,197,51,0.42)" stroke-width="1.2"/>
<circle cx="367.4" cy="274.3" r="3.0" fill="rgba(51,197,51,0.37)" stroke="rgba(51,197,51,0.42)" stroke-width="1.2"/>
<circle cx="364.9" cy="274.3" r="3.0" fill="rgba(51,197,51,0.37)" stroke="rgba(51,197,51,0.42)" stroke-width="1.2"/>
<circle cx="326.0" cy="274.3" r="3.0" fill="rgba(51,197,51,0.37)" stroke="rgba(51,197,51,0.70)" stroke-width="1.2"/>
<circle cx="517.7" cy="274.3" r="2.9" fill="rgba(51,197,51,0.37)" stroke="rgba(51,197,51,0.70)" stroke-width="1.2"/>
<circle cx="465.9" cy="274.3" r="2.8" fill="rgba(51,197,51,0.37)" stroke="rgba(51,197,51,0.70)" stroke-width="1.2"/>
<circle cx="380.4" cy="274.3" r="2.7" fill="rgba(51,197,51,0.37)" stroke="rgba(51,197,51,0.70)" stroke-width="1.2"/>
<circle cx="266.4" cy="274.3" r="2.5" fill="rgba(51,197,51,0.37)" stroke="rgba(51,197,51,0.70)" stroke-width="1.2"/>
<circle cx="437.4" cy="274.3" r="2.4" fill="rgba(51,197,51,0.37)" stroke="rgba(51,197,51,0.70)" stroke-width="1.2"/>
<circle cx="414.0" cy="274.3" r="2.4" fill="rgba(51,197,51,0.37)" stroke="rgba(51,197,51,0.70)" stroke-width="1.2"/>
<circle cx="478.8" cy="274.3" r="2.4" fill="rgba(51,197,51,0.37)" stroke="rgba(51,197,51,0.70)" stroke-width="1.2"/>
<circle cx="463.3" cy="274.3" r="2.3" fill="rgba(51,197,51,0.37)" stroke="rgba(51,197,51,0.70)" stroke-width="1.2"/>
<circle cx="522.8" cy="274.3" r="2.3" fill="rgba(51,197,51,0.37)" stroke="rgba(51,197,51,0.70)" stroke-width="1.2"/>
<circle cx="406.3" cy="274.3" r="2.2" fill="rgba(51,197,51,0.37)" stroke="rgba(51,197,51,0.70)" stroke-width="1.2"/>
<circle cx="393.3" cy="274.3" r="2.1" fill="rgba(51,197,51,0.37)" stroke="rgba(51,197,51,0.70)" stroke-width="1.2"/>
<circle cx="548.7" cy="274.3" r="2.1" fill="rgba(51,197,51,0.37)" stroke="rgba(51,197,51,0.70)" stroke-width="1.2"/>
<circle cx="310.4" cy="274.3" r="2.0" fill="rgba(51,197,51,0.37)" stroke="rgba(51,197,51,0.70)" stroke-width="1.2"/>
<circle cx="483.5" cy="274.3" r="13.0" fill="rgba(121,51,255,0.37)" stroke="rgba(121,51,255,0.42)" stroke-width="1.2"/>
<circle cx="390.2" cy="274.3" r="12.0" fill="rgba(121,51,255,0.37)" stroke="rgba(121,51,255,0.42)" stroke-width="1.2"/>
<circle cx="701.0" cy="274.3" r="10.0" fill="rgba(121,51,255,0.37)" stroke="rgba(121,51,255,0.42)" stroke-width="1.2"/>
<circle cx="722.0" cy="274.3" r="9.6" fill="rgba(121,51,255,0.37)" stroke="rgba(121,51,255,0.42)" stroke-width="1.2"/>
<circle cx="446.5" cy="274.3" r="9.0" fill="rgba(121,51,255,0.37)" stroke="rgba(121,51,255,0.42)" stroke-width="1.2"/>
<circle cx="446.0" cy="274.3" r="9.0" fill="rgba(121,51,255,0.37)" stroke="rgba(121,51,255,0.42)" stroke-width="1.2"/>
<circle cx="506.8" cy="274.3" r="9.0" fill="rgba(121,51,255,0.37)" stroke="rgba(121,51,255,0.42)" stroke-width="1.2"/>
<circle cx="439.4" cy="274.3" r="8.5" fill="rgba(121,51,255,0.37)" stroke="rgba(121,51,255,0.42)" stroke-width="1.2"/>
<circle cx="440.0" cy="274.3" r="8.0" fill="rgba(121,51,255,0.37)" stroke="rgba(121,51,255,0.42)" stroke-width="1.2"/>
<circle cx="453.0" cy="274.3" r="8.0" fill="rgba(121,51,255,0.37)" stroke="rgba(121,51,255,0.42)" stroke-width="1.2"/>
<circle cx="453.7" cy="274.3" r="8.0" fill="rgba(121,51,255,0.37)" stroke="rgba(121,51,255,0.42)" stroke-width="1.2"/>
<circle cx="478.3" cy="274.3" r="8.0" fill="rgba(121,51,255,0.37)" stroke="rgba(121,51,255,0.42)" stroke-width="1.2"/>
<circle cx="337.7" cy="274.3" r="7.5" fill="rgba(121,51,255,0.37)" stroke="rgba(121,51,255,0.42)" stroke-width="1.2"/>
<circle cx="409.6" cy="274.3" r="7.5" fill="rgba(121,51,255,0.37)" stroke="rgba(121,51,255,0.42)" stroke-width="1.2"/>
<circle cx="461.5" cy="274.3" r="7.5" fill="rgba(121,51,255,0.37)" stroke="rgba(121,51,255,0.42)" stroke-width="1.2"/>
<circle cx="393.4" cy="274.3" r="7.0" fill="rgba(121,51,255,0.37)" stroke="rgba(121,51,255,0.42)" stroke-width="1.2"/>
<circle cx="281.9" cy="274.3" r="6.5" fill="rgba(121,51,255,0.37)" stroke="rgba(121,51,255,0.42)" stroke-width="1.2"/>
<circle cx="293.6" cy="274.3" r="6.5" fill="rgba(121,51,255,0.37)" stroke="rgba(121,51,255,0.42)" stroke-width="1.2"/>
<circle cx="351.3" cy="274.3" r="6.5" fill="rgba(121,51,255,0.37)" stroke="rgba(121,51,255,0.42)" stroke-width="1.2"/>
<circle cx="364.6" cy="274.3" r="6.5" fill="rgba(121,51,255,0.37)" stroke="rgba(121,51,255,0.42)" stroke-width="1.2"/>
<circle cx="374.6" cy="274.3" r="6.5" fill="rgba(121,51,255,0.37)" stroke="rgba(121,51,255,0.42)" stroke-width="1.2"/>
<circle cx="421.9" cy="274.3" r="6.5" fill="rgba(121,51,255,0.37)" stroke="rgba(121,51,255,0.42)" stroke-width="1.2"/>
<circle cx="385.6" cy="274.3" r="6.0" fill="rgba(121,51,255,0.37)" stroke="rgba(121,51,255,0.42)" stroke-width="1.2"/>
<circle cx="450.0" cy="274.3" r="6.0" fill="rgba(121,51,255,0.37)" stroke="rgba(121,51,255,0.42)" stroke-width="1.2"/>
<circle cx="486.0" cy="274.3" r="6.0" fill="rgba(121,51,255,0.37)" stroke="rgba(121,51,255,0.42)" stroke-width="1.2"/>
<circle cx="525.0" cy="274.3" r="6.0" fill="rgba(121,51,255,0.37)" stroke="rgba(121,51,255,0.42)" stroke-width="1.2"/>
<circle cx="530.0" cy="274.3" r="6.0" fill="rgba(121,51,255,0.37)" stroke="rgba(121,51,255,0.42)" stroke-width="1.2"/>
<circle cx="534.0" cy="274.3" r="5.5" fill="rgba(121,51,255,0.37)" stroke="rgba(121,51,255,0.42)" stroke-width="1.2"/>
<circle cx="398.6" cy="274.3" r="5.0" fill="rgba(121,51,255,0.37)" stroke="rgba(121,51,255,0.42)" stroke-width="1.2"/>
<circle cx="434.9" cy="274.3" r="5.0" fill="rgba(121,51,255,0.37)" stroke="rgba(121,51,255,0.42)" stroke-width="1.2"/>
<circle cx="443.0" cy="274.3" r="5.0" fill="rgba(121,51,255,0.37)" stroke="rgba(121,51,255,0.42)" stroke-width="1.2"/>
<circle cx="457.0" cy="274.3" r="5.0" fill="rgba(121,51,255,0.37)" stroke="rgba(121,51,255,0.42)" stroke-width="1.2"/>
<circle cx="465.0" cy="274.3" r="5.0" fill="rgba(121,51,255,0.37)" stroke="rgba(121,51,255,0.42)" stroke-width="1.2"/>
<circle cx="481.0" cy="274.3" r="5.0" fill="rgba(121,51,255,0.37)" stroke="rgba(121,51,255,0.42)" stroke-width="1.2"/>
<circle cx="506.8" cy="274.3" r="5.0" fill="rgba(121,51,255,0.37)" stroke="rgba(121,51,255,0.42)" stroke-width="1.2"/>
<circle cx="519.8" cy="274.3" r="5.0" fill="rgba(121,51,255,0.37)" stroke="rgba(121,51,255,0.42)" stroke-width="1.2"/>
<circle cx="330.5" cy="274.3" r="4.5" fill="rgba(121,51,255,0.37)" stroke="rgba(121,51,255,0.42)" stroke-width="1.2"/>
<circle cx="547.0" cy="274.3" r="4.5" fill="rgba(121,51,255,0.37)" stroke="rgba(121,51,255,0.42)" stroke-width="1.2"/>
<circle cx="286.5" cy="274.3" r="4.0" fill="rgba(121,51,255,0.37)" stroke="rgba(121,51,255,0.42)" stroke-width="1.2"/>
<circle cx="302.3" cy="274.3" r="4.0" fill="rgba(121,51,255,0.37)" stroke="rgba(121,51,255,0.42)" stroke-width="1.2"/>
<circle cx="341.5" cy="274.3" r="4.0" fill="rgba(121,51,255,0.37)" stroke="rgba(121,51,255,0.42)" stroke-width="1.2"/>
<circle cx="380.4" cy="274.3" r="4.0" fill="rgba(121,51,255,0.37)" stroke="rgba(121,51,255,0.42)" stroke-width="1.2"/>
<circle cx="390.0" cy="274.3" r="4.0" fill="rgba(121,51,255,0.37)" stroke="rgba(121,51,255,0.42)" stroke-width="1.2"/>
<circle cx="403.8" cy="274.3" r="4.0" fill="rgba(121,51,255,0.37)" stroke="rgba(121,51,255,0.42)" stroke-width="1.2"/>
<circle cx="449.0" cy="274.3" r="4.0" fill="rgba(121,51,255,0.37)" stroke="rgba(121,51,255,0.42)" stroke-width="1.2"/>
<circle cx="468.0" cy="274.3" r="4.0" fill="rgba(121,51,255,0.37)" stroke="rgba(121,51,255,0.42)" stroke-width="1.2"/>
<circle cx="490.0" cy="274.3" r="4.0" fill="rgba(121,51,255,0.37)" stroke="rgba(121,51,255,0.42)" stroke-width="1.2"/>
<circle cx="278.7" cy="274.3" r="3.5" fill="rgba(121,51,255,0.37)" stroke="rgba(121,51,255,0.42)" stroke-width="1.2"/>
<circle cx="279.4" cy="274.3" r="3.1" fill="rgba(121,51,255,0.37)" stroke="rgba(121,51,255,0.42)" stroke-width="1.2"/>
<circle cx="388.1" cy="274.3" r="3.1" fill="rgba(121,51,255,0.37)" stroke="rgba(121,51,255,0.42)" stroke-width="1.2"/>
<circle cx="509.9" cy="274.3" r="3.1" fill="rgba(121,51,255,0.37)" stroke="rgba(121,51,255,0.42)" stroke-width="1.2"/>
<circle cx="284.5" cy="274.3" r="3.1" fill="rgba(121,51,255,0.37)" stroke="rgba(121,51,255,0.42)" stroke-width="1.2"/>
<circle cx="395.9" cy="274.3" r="3.1" fill="rgba(121,51,255,0.37)" stroke="rgba(121,51,255,0.42)" stroke-width="1.2"/>
<circle cx="287.1" cy="274.3" r="3.1" fill="rgba(121,51,255,0.37)" stroke="rgba(121,51,255,0.42)" stroke-width="1.2"/>
<circle cx="354.5" cy="274.3" r="3.0" fill="rgba(121,51,255,0.37)" stroke="rgba(121,51,255,0.42)" stroke-width="1.2"/>
<circle cx="419.2" cy="274.3" r="3.0" fill="rgba(121,51,255,0.37)" stroke="rgba(121,51,255,0.42)" stroke-width="1.2"/>
<circle cx="298.8" cy="274.3" r="3.0" fill="rgba(121,51,255,0.37)" stroke="rgba(121,51,255,0.42)" stroke-width="1.2"/>
<circle cx="305.3" cy="274.3" r="3.0" fill="rgba(121,51,255,0.37)" stroke="rgba(121,51,255,0.42)" stroke-width="1.2"/>
<circle cx="322.8" cy="274.3" r="3.0" fill="rgba(121,51,255,0.37)" stroke="rgba(121,51,255,0.42)" stroke-width="1.2"/>
<circle cx="346.7" cy="274.3" r="3.0" fill="rgba(121,51,255,0.37)" stroke="rgba(121,51,255,0.42)" stroke-width="1.2"/>
<circle cx="359.0" cy="274.3" r="3.0" fill="rgba(121,51,255,0.37)" stroke="rgba(121,51,255,0.42)" stroke-width="1.2"/>
<circle cx="370.0" cy="274.3" r="3.0" fill="rgba(121,51,255,0.37)" stroke="rgba(121,51,255,0.42)" stroke-width="1.2"/>
<circle cx="395.0" cy="274.3" r="3.0" fill="rgba(121,51,255,0.37)" stroke="rgba(121,51,255,0.42)" stroke-width="1.2"/>
<circle cx="414.8" cy="274.3" r="3.0" fill="rgba(121,51,255,0.37)" stroke="rgba(121,51,255,0.42)" stroke-width="1.2"/>
<circle cx="426.0" cy="274.3" r="3.0" fill="rgba(121,51,255,0.37)" stroke="rgba(121,51,255,0.42)" stroke-width="1.2"/>
<circle cx="501.0" cy="274.3" r="3.0" fill="rgba(121,51,255,0.37)" stroke="rgba(121,51,255,0.42)" stroke-width="1.2"/>
<circle cx="512.7" cy="274.3" r="3.0" fill="rgba(121,51,255,0.37)" stroke="rgba(121,51,255,0.42)" stroke-width="1.2"/>
<circle cx="476.2" cy="274.3" r="3.0" fill="rgba(121,51,255,0.37)" stroke="rgba(121,51,255,0.70)" stroke-width="1.2"/>
<circle cx="323.4" cy="274.3" r="3.0" fill="rgba(121,51,255,0.37)" stroke="rgba(121,51,255,0.70)" stroke-width="1.2"/>
<circle cx="375.2" cy="274.3" r="3.0" fill="rgba(121,51,255,0.37)" stroke="rgba(121,51,255,0.70)" stroke-width="1.2"/>
<circle cx="502.1" cy="274.3" r="2.9" fill="rgba(121,51,255,0.37)" stroke="rgba(121,51,255,0.70)" stroke-width="1.2"/>
<circle cx="338.9" cy="274.3" r="2.9" fill="rgba(121,51,255,0.37)" stroke="rgba(121,51,255,0.70)" stroke-width="1.2"/>
<circle cx="421.8" cy="274.3" r="2.9" fill="rgba(121,51,255,0.37)" stroke="rgba(121,51,255,0.70)" stroke-width="1.2"/>
<circle cx="440.0" cy="274.3" r="2.9" fill="rgba(121,51,255,0.37)" stroke="rgba(121,51,255,0.70)" stroke-width="1.2"/>
<circle cx="494.3" cy="274.3" r="2.8" fill="rgba(121,51,255,0.37)" stroke="rgba(121,51,255,0.70)" stroke-width="1.2"/>
<circle cx="522.8" cy="274.3" r="2.8" fill="rgba(121,51,255,0.37)" stroke="rgba(121,51,255,0.70)" stroke-width="1.2"/>
<circle cx="447.7" cy="274.3" r="2.8" fill="rgba(121,51,255,0.37)" stroke="rgba(121,51,255,0.70)" stroke-width="1.2"/>
<circle cx="411.5" cy="274.3" r="2.8" fill="rgba(121,51,255,0.37)" stroke="rgba(121,51,255,0.70)" stroke-width="1.2"/>
<circle cx="364.8" cy="274.3" r="2.7" fill="rgba(121,51,255,0.37)" stroke="rgba(121,51,255,0.70)" stroke-width="1.2"/>
<circle cx="380.4" cy="274.3" r="2.7" fill="rgba(121,51,255,0.37)" stroke="rgba(121,51,255,0.70)" stroke-width="1.2"/>
<circle cx="471.0" cy="274.3" r="2.7" fill="rgba(121,51,255,0.37)" stroke="rgba(121,51,255,0.70)" stroke-width="1.2"/>
<circle cx="504.7" cy="274.3" r="2.7" fill="rgba(121,51,255,0.37)" stroke="rgba(121,51,255,0.70)" stroke-width="1.2"/>
<circle cx="515.1" cy="274.3" r="2.7" fill="rgba(121,51,255,0.37)" stroke="rgba(121,51,255,0.70)" stroke-width="1.2"/>
<circle cx="403.7" cy="274.3" r="2.6" fill="rgba(121,51,255,0.37)" stroke="rgba(121,51,255,0.70)" stroke-width="1.2"/>
<circle cx="336.3" cy="274.3" r="2.6" fill="rgba(121,51,255,0.37)" stroke="rgba(121,51,255,0.70)" stroke-width="1.2"/>
<circle cx="517.7" cy="274.3" r="2.6" fill="rgba(121,51,255,0.37)" stroke="rgba(121,51,255,0.70)" stroke-width="1.2"/>
<circle cx="320.8" cy="274.3" r="2.6" fill="rgba(121,51,255,0.37)" stroke="rgba(121,51,255,0.70)" stroke-width="1.2"/>
<circle cx="289.7" cy="274.3" r="2.5" fill="rgba(121,51,255,0.37)" stroke="rgba(121,51,255,0.70)" stroke-width="1.2"/>
<circle cx="512.5" cy="274.3" r="2.5" fill="rgba(121,51,255,0.37)" stroke="rgba(121,51,255,0.70)" stroke-width="1.2"/>
<circle cx="313.0" cy="274.3" r="2.5" fill="rgba(121,51,255,0.37)" stroke="rgba(121,51,255,0.70)" stroke-width="1.2"/>
<circle cx="406.3" cy="274.3" r="2.5" fill="rgba(121,51,255,0.37)" stroke="rgba(121,51,255,0.70)" stroke-width="1.2"/>
<circle cx="359.7" cy="274.3" r="2.5" fill="rgba(121,51,255,0.37)" stroke="rgba(121,51,255,0.70)" stroke-width="1.2"/>
<circle cx="351.9" cy="274.3" r="2.5" fill="rgba(121,51,255,0.37)" stroke="rgba(121,51,255,0.70)" stroke-width="1.2"/>
<circle cx="276.8" cy="274.3" r="2.4" fill="rgba(121,51,255,0.37)" stroke="rgba(121,51,255,0.70)" stroke-width="1.2"/>
<circle cx="528.0" cy="274.3" r="2.4" fill="rgba(121,51,255,0.37)" stroke="rgba(121,51,255,0.70)" stroke-width="1.2"/>
<circle cx="300.1" cy="274.3" r="2.4" fill="rgba(121,51,255,0.37)" stroke="rgba(121,51,255,0.70)" stroke-width="1.2"/>
<circle cx="372.6" cy="274.3" r="2.4" fill="rgba(121,51,255,0.37)" stroke="rgba(121,51,255,0.70)" stroke-width="1.2"/>
<circle cx="434.8" cy="274.3" r="2.4" fill="rgba(121,51,255,0.37)" stroke="rgba(121,51,255,0.70)" stroke-width="1.2"/>
<circle cx="328.6" cy="274.3" r="2.3" fill="rgba(121,51,255,0.37)" stroke="rgba(121,51,255,0.70)" stroke-width="1.2"/>
<circle cx="465.9" cy="274.3" r="2.3" fill="rgba(121,51,255,0.37)" stroke="rgba(121,51,255,0.70)" stroke-width="1.2"/>
<circle cx="491.8" cy="274.3" r="2.3" fill="rgba(121,51,255,0.37)" stroke="rgba(121,51,255,0.70)" stroke-width="1.2"/>
<circle cx="294.9" cy="274.3" r="2.3" fill="rgba(121,51,255,0.37)" stroke="rgba(121,51,255,0.70)" stroke-width="1.2"/>
<circle cx="468.4" cy="274.3" r="2.3" fill="rgba(121,51,255,0.37)" stroke="rgba(121,51,255,0.70)" stroke-width="1.2"/>
<circle cx="548.7" cy="274.3" r="2.2" fill="rgba(121,51,255,0.37)" stroke="rgba(121,51,255,0.70)" stroke-width="1.2"/>
<circle cx="533.2" cy="274.3" r="2.2" fill="rgba(121,51,255,0.37)" stroke="rgba(121,51,255,0.70)" stroke-width="1.2"/>
<circle cx="326.0" cy="274.3" r="2.2" fill="rgba(121,51,255,0.37)" stroke="rgba(121,51,255,0.70)" stroke-width="1.2"/>
<circle cx="331.2" cy="274.3" r="2.2" fill="rgba(121,51,255,0.37)" stroke="rgba(121,51,255,0.70)" stroke-width="1.2"/>
<circle cx="458.1" cy="274.3" r="2.2" fill="rgba(121,51,255,0.37)" stroke="rgba(121,51,255,0.70)" stroke-width="1.2"/>
<circle cx="292.3" cy="274.3" r="2.2" fill="rgba(121,51,255,0.37)" stroke="rgba(121,51,255,0.70)" stroke-width="1.2"/>
<circle cx="530.6" cy="274.3" r="2.1" fill="rgba(121,51,255,0.37)" stroke="rgba(121,51,255,0.70)" stroke-width="1.2"/>
<circle cx="427.0" cy="274.3" r="2.1" fill="rgba(121,51,255,0.37)" stroke="rgba(121,51,255,0.70)" stroke-width="1.2"/>
<circle cx="481.4" cy="274.3" r="2.1" fill="rgba(121,51,255,0.37)" stroke="rgba(121,51,255,0.70)" stroke-width="1.2"/>
<circle cx="370.0" cy="274.3" r="2.0" fill="rgba(121,51,255,0.37)" stroke="rgba(121,51,255,0.70)" stroke-width="1.2"/>
<circle cx="535.8" cy="274.3" r="2.0" fill="rgba(121,51,255,0.37)" stroke="rgba(121,51,255,0.70)" stroke-width="1.2"/>
<circle cx="525.4" cy="274.3" r="2.0" fill="rgba(121,51,255,0.37)" stroke="rgba(121,51,255,0.70)" stroke-width="1.2"/>
<circle cx="309.8" cy="274.3" r="2.0" fill="rgba(121,51,255,0.37)" stroke="rgba(121,51,255,0.70)" stroke-width="1.2"/>
<circle cx="315.6" cy="274.3" r="2.0" fill="rgba(121,51,255,0.37)" stroke="rgba(121,51,255,0.70)" stroke-width="1.2"/>
<circle cx="310.4" cy="274.3" r="2.0" fill="rgba(121,51,255,0.37)" stroke="rgba(121,51,255,0.70)" stroke-width="1.2"/>
<circle cx="408.9" cy="274.3" r="2.0" fill="rgba(121,51,255,0.37)" stroke="rgba(121,51,255,0.70)" stroke-width="1.2"/>
<circle cx="416.6" cy="274.3" r="2.0" fill="rgba(121,51,255,0.37)" stroke="rgba(121,51,255,0.70)" stroke-width="1.2"/>
<circle cx="437.4" cy="274.3" r="1.9" fill="rgba(121,51,255,0.37)" stroke="rgba(121,51,255,0.70)" stroke-width="1.2"/>
<circle cx="463.3" cy="274.3" r="1.9" fill="rgba(121,51,255,0.37)" stroke="rgba(121,51,255,0.70)" stroke-width="1.2"/>
<circle cx="478.8" cy="274.3" r="1.9" fill="rgba(121,51,255,0.37)" stroke="rgba(121,51,255,0.70)" stroke-width="1.2"/>
<circle cx="390.7" cy="274.3" r="1.9" fill="rgba(121,51,255,0.37)" stroke="rgba(121,51,255,0.70)" stroke-width="1.2"/>
<circle cx="489.2" cy="274.3" r="1.9" fill="rgba(121,51,255,0.37)" stroke="rgba(121,51,255,0.70)" stroke-width="1.2"/>
<circle cx="398.5" cy="274.3" r="1.9" fill="rgba(121,51,255,0.37)" stroke="rgba(121,51,255,0.70)" stroke-width="1.2"/>
<circle cx="307.8" cy="274.3" r="1.8" fill="rgba(121,51,255,0.37)" stroke="rgba(121,51,255,0.70)" stroke-width="1.2"/>
<circle cx="393.3" cy="274.3" r="1.8" fill="rgba(121,51,255,0.37)" stroke="rgba(121,51,255,0.70)" stroke-width="1.2"/>
</g>
<line x1="266.4" y1="353.4" x2="1043.5" y2="353.4" stroke="#ebebeb" stroke-width="2"/>
<line x1="266.4" y1="345.4" x2="266.4" y2="361.4" stroke="#ebebeb" stroke-width="2"/>
<line x1="1043.5" y1="345.4" x2="1043.5" y2="361.4" stroke="#ebebeb" stroke-width="2"/>
<g filter="url(#soft)">
<circle cx="452.4" cy="353.4" r="15.0" fill="rgba(0,0,255,0.37)" stroke="rgba(0,0,255,0.42)" stroke-width="1.2"/>
<circle cx="403.0" cy="353.4" r="12.5" fill="rgba(0,0,255,0.37)" stroke="rgba(0,0,255,0.42)" stroke-width="1.2"/>
<circle cx="395.0" cy="353.4" r="12.0" fill="rgba(0,0,255,0.37)" stroke="rgba(0,0,255,0.42)" stroke-width="1.2"/>
<circle cx="452.4" cy="353.4" r="12.0" fill="rgba(0,0,255,0.37)" stroke="rgba(0,0,255,0.42)" stroke-width="1.2"/>
<circle cx="430.4" cy="353.4" r="11.5" fill="rgba(0,0,255,0.37)" stroke="rgba(0,0,255,0.42)" stroke-width="1.2"/>
<circle cx="486.2" cy="353.4" r="11.4" fill="rgba(0,0,255,0.37)" stroke="rgba(0,0,255,0.42)" stroke-width="1.2"/>
<circle cx="509.5" cy="353.4" r="11.3" fill="rgba(0,0,255,0.37)" stroke="rgba(0,0,255,0.42)" stroke-width="1.2"/>
<circle cx="521.9" cy="353.4" r="11.1" fill="rgba(0,0,255,0.37)" stroke="rgba(0,0,255,0.42)" stroke-width="1.2"/>
<circle cx="400.3" cy="353.4" r="11.1" fill="rgba(0,0,255,0.37)" stroke="rgba(0,0,255,0.42)" stroke-width="1.2"/>
<circle cx="526.9" cy="353.4" r="11.1" fill="rgba(0,0,255,0.37)" stroke="rgba(0,0,255,0.42)" stroke-width="1.2"/>
<circle cx="415.0" cy="353.4" r="11.0" fill="rgba(0,0,255,0.37)" stroke="rgba(0,0,255,0.42)" stroke-width="1.2"/>
<circle cx="440.0" cy="353.4" r="11.0" fill="rgba(0,0,255,0.37)" stroke="rgba(0,0,255,0.42)" stroke-width="1.2"/>
<circle cx="538.0" cy="353.4" r="11.0" fill="rgba(0,0,255,0.37)" stroke="rgba(0,0,255,0.42)" stroke-width="1.2"/>
<circle cx="412.7" cy="353.4" r="10.9" fill="rgba(0,0,255,0.37)" stroke="rgba(0,0,255,0.42)" stroke-width="1.2"/>
<circle cx="432.9" cy="353.4" r="10.9" fill="rgba(0,0,255,0.37)" stroke="rgba(0,0,255,0.42)" stroke-width="1.2"/>
<circle cx="471.8" cy="353.4" r="10.9" fill="rgba(0,0,255,0.37)" stroke="rgba(0,0,255,0.42)" stroke-width="1.2"/>
<circle cx="395.8" cy="353.4" r="10.7" fill="rgba(0,0,255,0.37)" stroke="rgba(0,0,255,0.42)" stroke-width="1.2"/>
<circle cx="266.0" cy="353.4" r="10.5" fill="rgba(0,0,255,0.37)" stroke="rgba(0,0,255,0.42)" stroke-width="1.2"/>
<circle cx="279.0" cy="353.4" r="10.5" fill="rgba(0,0,255,0.37)" stroke="rgba(0,0,255,0.42)" stroke-width="1.2"/>
<circle cx="469.0" cy="353.4" r="10.5" fill="rgba(0,0,255,0.37)" stroke="rgba(0,0,255,0.42)" stroke-width="1.2"/>
<circle cx="485.0" cy="353.4" r="10.5" fill="rgba(0,0,255,0.37)" stroke="rgba(0,0,255,0.42)" stroke-width="1.2"/>
<circle cx="404.0" cy="353.4" r="10.4" fill="rgba(0,0,255,0.37)" stroke="rgba(0,0,255,0.42)" stroke-width="1.2"/>
<circle cx="518.8" cy="353.4" r="10.4" fill="rgba(0,0,255,0.37)" stroke="rgba(0,0,255,0.42)" stroke-width="1.2"/>
<circle cx="273.7" cy="353.4" r="10.3" fill="rgba(0,0,255,0.37)" stroke="rgba(0,0,255,0.42)" stroke-width="1.2"/>
<circle cx="427.4" cy="353.4" r="10.3" fill="rgba(0,0,255,0.37)" stroke="rgba(0,0,255,0.42)" stroke-width="1.2"/>
<circle cx="280.8" cy="353.4" r="10.1" fill="rgba(0,0,255,0.37)" stroke="rgba(0,0,255,0.42)" stroke-width="1.2"/>
<circle cx="497.4" cy="353.4" r="10.1" fill="rgba(0,0,255,0.37)" stroke="rgba(0,0,255,0.42)" stroke-width="1.2"/>
<circle cx="408.5" cy="353.4" r="10.0" fill="rgba(0,0,255,0.37)" stroke="rgba(0,0,255,0.42)" stroke-width="1.2"/>
<circle cx="381.0" cy="353.4" r="10.0" fill="rgba(0,0,255,0.37)" stroke="rgba(0,0,255,0.42)" stroke-width="1.2"/>
<circle cx="466.6" cy="353.4" r="9.9" fill="rgba(0,0,255,0.37)" stroke="rgba(0,0,255,0.42)" stroke-width="1.2"/>
<circle cx="514.2" cy="353.4" r="9.8" fill="rgba(0,0,255,0.37)" stroke="rgba(0,0,255,0.42)" stroke-width="1.2"/>
<circle cx="418.0" cy="353.4" r="9.7" fill="rgba(0,0,255,0.37)" stroke="rgba(0,0,255,0.42)" stroke-width="1.2"/>
<circle cx="266.4" cy="353.4" r="9.6" fill="rgba(0,0,255,0.37)" stroke="rgba(0,0,255,0.42)" stroke-width="1.2"/>
<circle cx="516.0" cy="353.4" r="9.5" fill="rgba(0,0,255,0.37)" stroke="rgba(0,0,255,0.42)" stroke-width="1.2"/>
<circle cx="382.0" cy="353.4" r="9.5" fill="rgba(0,0,255,0.37)" stroke="rgba(0,0,255,0.42)" stroke-width="1.2"/>
<circle cx="378.7" cy="353.4" r="9.4" fill="rgba(0,0,255,0.37)" stroke="rgba(0,0,255,0.42)" stroke-width="1.2"/>
<circle cx="318.1" cy="353.4" r="9.4" fill="rgba(0,0,255,0.37)" stroke="rgba(0,0,255,0.42)" stroke-width="1.2"/>
<circle cx="531.9" cy="353.4" r="9.4" fill="rgba(0,0,255,0.37)" stroke="rgba(0,0,255,0.42)" stroke-width="1.2"/>
<circle cx="457.3" cy="353.4" r="9.4" fill="rgba(0,0,255,0.37)" stroke="rgba(0,0,255,0.42)" stroke-width="1.2"/>
<circle cx="436.6" cy="353.4" r="9.4" fill="rgba(0,0,255,0.37)" stroke="rgba(0,0,255,0.42)" stroke-width="1.2"/>
<circle cx="505.1" cy="353.4" r="9.3" fill="rgba(0,0,255,0.37)" stroke="rgba(0,0,255,0.42)" stroke-width="1.2"/>
<circle cx="481.0" cy="353.4" r="9.3" fill="rgba(0,0,255,0.37)" stroke="rgba(0,0,255,0.42)" stroke-width="1.2"/>
<circle cx="547.0" cy="353.4" r="9.2" fill="rgba(0,0,255,0.37)" stroke="rgba(0,0,255,0.42)" stroke-width="1.2"/>
<circle cx="321.3" cy="353.4" r="9.1" fill="rgba(0,0,255,0.37)" stroke="rgba(0,0,255,0.42)" stroke-width="1.2"/>
<circle cx="357.0" cy="353.4" r="9.0" fill="rgba(0,0,255,0.37)" stroke="rgba(0,0,255,0.42)" stroke-width="1.2"/>
<circle cx="477.0" cy="353.4" r="9.0" fill="rgba(0,0,255,0.37)" stroke="rgba(0,0,255,0.42)" stroke-width="1.2"/>
<circle cx="360.7" cy="353.4" r="8.9" fill="rgba(0,0,255,0.37)" stroke="rgba(0,0,255,0.42)" stroke-width="1.2"/>
<circle cx="493.2" cy="353.4" r="8.8" fill="rgba(0,0,255,0.37)" stroke="rgba(0,0,255,0.42)" stroke-width="1.2"/>
<circle cx="543.6" cy="353.4" r="8.7" fill="rgba(0,0,255,0.37)" stroke="rgba(0,0,255,0.42)" stroke-width="1.2"/>
<circle cx="375.0" cy="353.4" r="8.7" fill="rgba(0,0,255,0.37)" stroke="rgba(0,0,255,0.42)" stroke-width="1.2"/>
<circle cx="489.6" cy="353.4" r="8.6" fill="rgba(0,0,255,0.37)" stroke="rgba(0,0,255,0.42)" stroke-width="1.2"/>
<circle cx="445.5" cy="353.4" r="8.6" fill="rgba(0,0,255,0.37)" stroke="rgba(0,0,255,0.42)" stroke-width="1.2"/>
<circle cx="348.4" cy="353.4" r="8.5" fill="rgba(0,0,255,0.37)" stroke="rgba(0,0,255,0.42)" stroke-width="1.2"/>
<circle cx="386.9" cy="353.4" r="8.5" fill="rgba(0,0,255,0.37)" stroke="rgba(0,0,255,0.42)" stroke-width="1.2"/>
<circle cx="453.7" cy="353.4" r="8.5" fill="rgba(0,0,255,0.37)" stroke="rgba(0,0,255,0.42)" stroke-width="1.2"/>
<circle cx="337.8" cy="353.4" r="8.4" fill="rgba(0,0,255,0.37)" stroke="rgba(0,0,255,0.42)" stroke-width="1.2"/>
<circle cx="308.8" cy="353.4" r="8.4" fill="rgba(0,0,255,0.37)" stroke="rgba(0,0,255,0.42)" stroke-width="1.2"/>
<circle cx="535.9" cy="353.4" r="8.4" fill="rgba(0,0,255,0.37)" stroke="rgba(0,0,255,0.42)" stroke-width="1.2"/>
<circle cx="462.5" cy="353.4" r="8.3" fill="rgba(0,0,255,0.37)" stroke="rgba(0,0,255,0.42)" stroke-width="1.2"/>
<circle cx="314.2" cy="353.4" r="8.2" fill="rgba(0,0,255,0.37)" stroke="rgba(0,0,255,0.42)" stroke-width="1.2"/>
<circle cx="540.4" cy="353.4" r="8.2" fill="rgba(0,0,255,0.37)" stroke="rgba(0,0,255,0.42)" stroke-width="1.2"/>
<circle cx="422.7" cy="353.4" r="8.2" fill="rgba(0,0,255,0.37)" stroke="rgba(0,0,255,0.42)" stroke-width="1.2"/>
<circle cx="448.8" cy="353.4" r="8.2" fill="rgba(0,0,255,0.37)" stroke="rgba(0,0,255,0.42)" stroke-width="1.2"/>
<circle cx="341.7" cy="353.4" r="8.1" fill="rgba(0,0,255,0.37)" stroke="rgba(0,0,255,0.42)" stroke-width="1.2"/>
<circle cx="391.2" cy="353.4" r="8.1" fill="rgba(0,0,255,0.37)" stroke="rgba(0,0,255,0.42)" stroke-width="1.2"/>
<circle cx="441.3" cy="353.4" r="8.1" fill="rgba(0,0,255,0.37)" stroke="rgba(0,0,255,0.42)" stroke-width="1.2"/>
<circle cx="369.8" cy="353.4" r="8.1" fill="rgba(0,0,255,0.37)" stroke="rgba(0,0,255,0.42)" stroke-width="1.2"/>
<circle cx="501.0" cy="353.4" r="8.0" fill="rgba(0,0,255,0.37)" stroke="rgba(0,0,255,0.42)" stroke-width="1.2"/>
<circle cx="550.1" cy="353.4" r="8.0" fill="rgba(0,0,255,0.37)" stroke="rgba(0,0,255,0.42)" stroke-width="1.2"/>
<circle cx="356.9" cy="353.4" r="7.9" fill="rgba(0,0,255,0.37)" stroke="rgba(0,0,255,0.42)" stroke-width="1.2"/>
<circle cx="300.2" cy="353.4" r="7.8" fill="rgba(0,0,255,0.37)" stroke="rgba(0,0,255,0.42)" stroke-width="1.2"/>
<circle cx="352.4" cy="353.4" r="7.4" fill="rgba(0,0,255,0.37)" stroke="rgba(0,0,255,0.42)" stroke-width="1.2"/>
<circle cx="328.3" cy="353.4" r="7.4" fill="rgba(0,0,255,0.37)" stroke="rgba(0,0,255,0.42)" stroke-width="1.2"/>
<circle cx="365.4" cy="353.4" r="7.2" fill="rgba(0,0,255,0.37)" stroke="rgba(0,0,255,0.42)" stroke-width="1.2"/>
<circle cx="333.3" cy="353.4" r="7.0" fill="rgba(0,0,255,0.37)" stroke="rgba(0,0,255,0.42)" stroke-width="1.2"/>
<circle cx="325.0" cy="353.4" r="6.9" fill="rgba(0,0,255,0.37)" stroke="rgba(0,0,255,0.42)" stroke-width="1.2"/>
<circle cx="305.2" cy="353.4" r="6.9" fill="rgba(0,0,255,0.37)" stroke="rgba(0,0,255,0.42)" stroke-width="1.2"/>
<circle cx="296.9" cy="353.4" r="6.7" fill="rgba(0,0,255,0.37)" stroke="rgba(0,0,255,0.42)" stroke-width="1.2"/>
<circle cx="344.9" cy="353.4" r="6.7" fill="rgba(0,0,255,0.37)" stroke="rgba(0,0,255,0.42)" stroke-width="1.2"/>
<circle cx="288.6" cy="353.4" r="6.7" fill="rgba(0,0,255,0.37)" stroke="rgba(0,0,255,0.42)" stroke-width="1.2"/>
<circle cx="292.8" cy="353.4" r="6.6" fill="rgba(0,0,255,0.37)" stroke="rgba(0,0,255,0.42)" stroke-width="1.2"/>
<circle cx="304.0" cy="353.4" r="9.0" fill="rgba(121,51,255,0.37)" stroke="rgba(121,51,255,0.42)" stroke-width="1.2"/>
<circle cx="311.0" cy="353.4" r="9.0" fill="rgba(121,51,255,0.37)" stroke="rgba(121,51,255,0.42)" stroke-width="1.2"/>
<circle cx="365.0" cy="353.4" r="8.5" fill="rgba(121,51,255,0.37)" stroke="rgba(121,51,255,0.42)" stroke-width="1.2"/>
<circle cx="294.9" cy="353.4" r="8.5" fill="rgba(121,51,255,0.37)" stroke="rgba(121,51,255,0.42)" stroke-width="1.2"/>
<circle cx="296.0" cy="353.4" r="8.0" fill="rgba(121,51,255,0.37)" stroke="rgba(121,51,255,0.42)" stroke-width="1.2"/>
<circle cx="322.0" cy="353.4" r="8.0" fill="rgba(121,51,255,0.37)" stroke="rgba(121,51,255,0.42)" stroke-width="1.2"/>
<circle cx="340.0" cy="353.4" r="8.0" fill="rgba(121,51,255,0.37)" stroke="rgba(121,51,255,0.42)" stroke-width="1.2"/>
<circle cx="449.0" cy="353.4" r="8.0" fill="rgba(121,51,255,0.37)" stroke="rgba(121,51,255,0.42)" stroke-width="1.2"/>
<circle cx="344.1" cy="353.4" r="7.8" fill="rgba(121,51,255,0.37)" stroke="rgba(121,51,255,0.42)" stroke-width="1.2"/>
<circle cx="357.1" cy="353.4" r="7.4" fill="rgba(121,51,255,0.37)" stroke="rgba(121,51,255,0.42)" stroke-width="1.2"/>
<circle cx="289.7" cy="353.4" r="7.3" fill="rgba(121,51,255,0.37)" stroke="rgba(121,51,255,0.42)" stroke-width="1.2"/>
<circle cx="297.5" cy="353.4" r="7.0" fill="rgba(121,51,255,0.37)" stroke="rgba(121,51,255,0.42)" stroke-width="1.2"/>
<circle cx="463.3" cy="353.4" r="6.8" fill="rgba(121,51,255,0.37)" stroke="rgba(121,51,255,0.42)" stroke-width="1.2"/>
<circle cx="401.1" cy="353.4" r="6.7" fill="rgba(121,51,255,0.37)" stroke="rgba(121,51,255,0.42)" stroke-width="1.2"/>
<circle cx="333.7" cy="353.4" r="6.7" fill="rgba(121,51,255,0.37)" stroke="rgba(121,51,255,0.42)" stroke-width="1.2"/>
<circle cx="502.1" cy="353.4" r="6.6" fill="rgba(121,51,255,0.37)" stroke="rgba(121,51,255,0.42)" stroke-width="1.2"/>
<circle cx="354.5" cy="353.4" r="6.5" fill="rgba(121,51,255,0.37)" stroke="rgba(121,51,255,0.42)" stroke-width="1.2"/>
<circle cx="460.7" cy="353.4" r="6.5" fill="rgba(121,51,255,0.37)" stroke="rgba(121,51,255,0.42)" stroke-width="1.2"/>
<circle cx="307.8" cy="353.4" r="6.3" fill="rgba(121,51,255,0.37)" stroke="rgba(121,51,255,0.42)" stroke-width="1.2"/>
<circle cx="380.4" cy="353.4" r="6.2" fill="rgba(121,51,255,0.37)" stroke="rgba(121,51,255,0.42)" stroke-width="1.2"/>
<circle cx="510.7" cy="353.4" r="6.0" fill="rgba(121,51,255,0.37)" stroke="rgba(121,51,255,0.42)" stroke-width="1.2"/>
<circle cx="526.0" cy="353.4" r="6.0" fill="rgba(121,51,255,0.37)" stroke="rgba(121,51,255,0.42)" stroke-width="1.2"/>
<circle cx="490.0" cy="353.4" r="6.0" fill="rgba(121,51,255,0.37)" stroke="rgba(121,51,255,0.42)" stroke-width="1.2"/>
<circle cx="388.1" cy="353.4" r="5.8" fill="rgba(121,51,255,0.37)" stroke="rgba(121,51,255,0.42)" stroke-width="1.2"/>
<circle cx="535.8" cy="353.4" r="5.4" fill="rgba(121,51,255,0.37)" stroke="rgba(121,51,255,0.42)" stroke-width="1.2"/>
<circle cx="512.5" cy="353.4" r="5.4" fill="rgba(121,51,255,0.37)" stroke="rgba(121,51,255,0.42)" stroke-width="1.2"/>
<circle cx="287.1" cy="353.4" r="5.2" fill="rgba(121,51,255,0.37)" stroke="rgba(121,51,255,0.42)" stroke-width="1.2"/>
<circle cx="543.6" cy="353.4" r="5.2" fill="rgba(121,51,255,0.37)" stroke="rgba(121,51,255,0.42)" stroke-width="1.2"/>
<circle cx="455.5" cy="353.4" r="5.1" fill="rgba(121,51,255,0.37)" stroke="rgba(121,51,255,0.42)" stroke-width="1.2"/>
<circle cx="458.1" cy="353.4" r="5.0" fill="rgba(121,51,255,0.37)" stroke="rgba(121,51,255,0.42)" stroke-width="1.2"/>
<circle cx="522.8" cy="353.4" r="4.9" fill="rgba(121,51,255,0.37)" stroke="rgba(121,51,255,0.42)" stroke-width="1.2"/>
<circle cx="434.8" cy="353.4" r="4.9" fill="rgba(121,51,255,0.37)" stroke="rgba(121,51,255,0.42)" stroke-width="1.2"/>
<circle cx="491.8" cy="353.4" r="4.9" fill="rgba(121,51,255,0.37)" stroke="rgba(121,51,255,0.42)" stroke-width="1.2"/>
<circle cx="452.9" cy="353.4" r="4.9" fill="rgba(121,51,255,0.37)" stroke="rgba(121,51,255,0.42)" stroke-width="1.2"/>
<circle cx="414.0" cy="353.4" r="4.9" fill="rgba(121,51,255,0.37)" stroke="rgba(121,51,255,0.42)" stroke-width="1.2"/>
<circle cx="499.5" cy="353.4" r="4.9" fill="rgba(121,51,255,0.37)" stroke="rgba(121,51,255,0.42)" stroke-width="1.2"/>
<circle cx="445.1" cy="353.4" r="4.8" fill="rgba(121,51,255,0.37)" stroke="rgba(121,51,255,0.42)" stroke-width="1.2"/>
<circle cx="504.7" cy="353.4" r="4.7" fill="rgba(121,51,255,0.37)" stroke="rgba(121,51,255,0.42)" stroke-width="1.2"/>
<circle cx="385.6" cy="353.4" r="4.6" fill="rgba(121,51,255,0.37)" stroke="rgba(121,51,255,0.42)" stroke-width="1.2"/>
<circle cx="520.3" cy="353.4" r="4.5" fill="rgba(121,51,255,0.37)" stroke="rgba(121,51,255,0.42)" stroke-width="1.2"/>
<circle cx="424.4" cy="353.4" r="4.2" fill="rgba(121,51,255,0.37)" stroke="rgba(121,51,255,0.42)" stroke-width="1.2"/>
<circle cx="538.4" cy="353.4" r="4.1" fill="rgba(121,51,255,0.37)" stroke="rgba(121,51,255,0.42)" stroke-width="1.2"/>
<circle cx="539.0" cy="353.4" r="9.0" fill="rgba(51,197,51,0.37)" stroke="rgba(51,197,51,0.42)" stroke-width="1.2"/>
<circle cx="274.8" cy="353.4" r="8.0" fill="rgba(51,197,51,0.37)" stroke="rgba(51,197,51,0.42)" stroke-width="1.2"/>
<circle cx="387.0" cy="353.4" r="7.5" fill="rgba(51,197,51,0.37)" stroke="rgba(51,197,51,0.42)" stroke-width="1.2"/>
<circle cx="406.4" cy="353.4" r="7.5" fill="rgba(51,197,51,0.37)" stroke="rgba(51,197,51,0.42)" stroke-width="1.2"/>
<circle cx="484.8" cy="353.4" r="7.5" fill="rgba(51,197,51,0.37)" stroke="rgba(51,197,51,0.42)" stroke-width="1.2"/>
<circle cx="470.5" cy="353.4" r="7.0" fill="rgba(51,197,51,0.37)" stroke="rgba(51,197,51,0.42)" stroke-width="1.2"/>
<circle cx="539.0" cy="353.4" r="7.0" fill="rgba(51,197,51,0.37)" stroke="rgba(51,197,51,0.42)" stroke-width="1.2"/>
<circle cx="269.0" cy="353.4" r="6.5" fill="rgba(51,197,51,0.37)" stroke="rgba(51,197,51,0.42)" stroke-width="1.2"/>
<circle cx="431.0" cy="353.4" r="6.5" fill="rgba(51,197,51,0.37)" stroke="rgba(51,197,51,0.42)" stroke-width="1.2"/>
<circle cx="349.3" cy="353.4" r="6.0" fill="rgba(51,197,51,0.37)" stroke="rgba(51,197,51,0.42)" stroke-width="1.2"/>
<circle cx="429.0" cy="353.4" r="6.0" fill="rgba(51,197,51,0.37)" stroke="rgba(51,197,51,0.42)" stroke-width="1.2"/>
<circle cx="462.8" cy="353.4" r="6.0" fill="rgba(51,197,51,0.37)" stroke="rgba(51,197,51,0.42)" stroke-width="1.2"/>
<circle cx="548.0" cy="353.4" r="6.0" fill="rgba(51,197,51,0.37)" stroke="rgba(51,197,51,0.42)" stroke-width="1.2"/>
<circle cx="442.5" cy="353.4" r="6.0" fill="rgba(51,197,51,0.37)" stroke="rgba(51,197,51,0.42)" stroke-width="1.2"/>
<circle cx="336.3" cy="353.4" r="5.8" fill="rgba(51,197,51,0.37)" stroke="rgba(51,197,51,0.42)" stroke-width="1.2"/>
<circle cx="411.5" cy="353.4" r="5.6" fill="rgba(51,197,51,0.37)" stroke="rgba(51,197,51,0.42)" stroke-width="1.2"/>
<circle cx="331.2" cy="353.4" r="5.5" fill="rgba(51,197,51,0.37)" stroke="rgba(51,197,51,0.42)" stroke-width="1.2"/>
<circle cx="476.2" cy="353.4" r="5.5" fill="rgba(51,197,51,0.37)" stroke="rgba(51,197,51,0.42)" stroke-width="1.2"/>
<circle cx="494.3" cy="353.4" r="5.4" fill="rgba(51,197,51,0.37)" stroke="rgba(51,197,51,0.42)" stroke-width="1.2"/>
<circle cx="521.0" cy="353.4" r="5.0" fill="rgba(51,197,51,0.37)" stroke="rgba(51,197,51,0.42)" stroke-width="1.2"/>
<circle cx="434.8" cy="353.4" r="4.9" fill="rgba(51,197,51,0.37)" stroke="rgba(51,197,51,0.42)" stroke-width="1.2"/>
<circle cx="297.5" cy="353.4" r="4.8" fill="rgba(51,197,51,0.37)" stroke="rgba(51,197,51,0.42)" stroke-width="1.2"/>
<circle cx="509.9" cy="353.4" r="4.8" fill="rgba(51,197,51,0.37)" stroke="rgba(51,197,51,0.42)" stroke-width="1.2"/>
<circle cx="481.4" cy="353.4" r="4.6" fill="rgba(51,197,51,0.37)" stroke="rgba(51,197,51,0.42)" stroke-width="1.2"/>
<circle cx="520.3" cy="353.4" r="4.5" fill="rgba(51,197,51,0.37)" stroke="rgba(51,197,51,0.42)" stroke-width="1.2"/>
<circle cx="372.6" cy="353.4" r="4.4" fill="rgba(51,197,51,0.37)" stroke="rgba(51,197,51,0.42)" stroke-width="1.2"/>
<circle cx="408.9" cy="353.4" r="4.3" fill="rgba(51,197,51,0.37)" stroke="rgba(51,197,51,0.42)" stroke-width="1.2"/>
<circle cx="289.7" cy="353.4" r="4.3" fill="rgba(51,197,51,0.37)" stroke="rgba(51,197,51,0.42)" stroke-width="1.2"/>
<circle cx="525.4" cy="353.4" r="4.2" fill="rgba(51,197,51,0.37)" stroke="rgba(51,197,51,0.42)" stroke-width="1.2"/>
<circle cx="528.0" cy="353.4" r="4.2" fill="rgba(51,197,51,0.37)" stroke="rgba(51,197,51,0.42)" stroke-width="1.2"/>
<circle cx="344.1" cy="353.4" r="4.0" fill="rgba(51,197,51,0.37)" stroke="rgba(51,197,51,0.42)" stroke-width="1.2"/>
<circle cx="271.6" cy="353.4" r="3.9" fill="rgba(51,197,51,0.37)" stroke="rgba(51,197,51,0.42)" stroke-width="1.2"/>
<circle cx="447.7" cy="353.4" r="3.8" fill="rgba(51,197,51,0.37)" stroke="rgba(51,197,51,0.42)" stroke-width="1.2"/>
<circle cx="538.4" cy="353.4" r="3.8" fill="rgba(51,197,51,0.37)" stroke="rgba(51,197,51,0.42)" stroke-width="1.2"/>
<circle cx="294.9" cy="353.4" r="3.8" fill="rgba(51,197,51,0.37)" stroke="rgba(51,197,51,0.42)" stroke-width="1.2"/>
<circle cx="305.3" cy="353.4" r="3.7" fill="rgba(51,197,51,0.37)" stroke="rgba(51,197,51,0.42)" stroke-width="1.2"/>
<circle cx="346.7" cy="353.4" r="3.7" fill="rgba(51,197,51,0.37)" stroke="rgba(51,197,51,0.42)" stroke-width="1.2"/>
<circle cx="546.2" cy="353.4" r="3.6" fill="rgba(51,197,51,0.37)" stroke="rgba(51,197,51,0.42)" stroke-width="1.2"/>
<circle cx="359.7" cy="353.4" r="3.6" fill="rgba(51,197,51,0.37)" stroke="rgba(51,197,51,0.42)" stroke-width="1.2"/>
<circle cx="460.7" cy="353.4" r="3.4" fill="rgba(51,197,51,0.37)" stroke="rgba(51,197,51,0.42)" stroke-width="1.2"/>
<circle cx="502.1" cy="353.4" r="3.3" fill="rgba(51,197,51,0.37)" stroke="rgba(51,197,51,0.42)" stroke-width="1.2"/>
<circle cx="284.5" cy="353.4" r="3.3" fill="rgba(51,197,51,0.37)" stroke="rgba(51,197,51,0.42)" stroke-width="1.2"/>
<circle cx="370.0" cy="353.4" r="3.2" fill="rgba(51,197,51,0.37)" stroke="rgba(51,197,51,0.42)" stroke-width="1.2"/>
<circle cx="543.6" cy="353.4" r="3.1" fill="rgba(51,197,51,0.37)" stroke="rgba(51,197,51,0.42)" stroke-width="1.2"/>
<circle cx="421.8" cy="353.4" r="3.1" fill="rgba(51,197,51,0.37)" stroke="rgba(51,197,51,0.42)" stroke-width="1.2"/>
<circle cx="333.7" cy="353.4" r="3.0" fill="rgba(51,197,51,0.37)" stroke="rgba(51,197,51,0.42)" stroke-width="1.2"/>
<circle cx="501.7" cy="353.4" r="11.0" fill="rgba(255,0,255,0.37)" stroke="rgba(255,0,255,0.42)" stroke-width="1.2"/>
<circle cx="311.7" cy="353.4" r="9.0" fill="rgba(255,0,255,0.37)" stroke="rgba(255,0,255,0.42)" stroke-width="1.2"/>
<circle cx="359.7" cy="353.4" r="9.0" fill="rgba(255,0,255,0.37)" stroke="rgba(255,0,255,0.42)" stroke-width="1.2"/>
<circle cx="333.8" cy="353.4" r="8.5" fill="rgba(255,0,255,0.37)" stroke="rgba(255,0,255,0.42)" stroke-width="1.2"/>
<circle cx="366.2" cy="353.4" r="8.5" fill="rgba(255,0,255,0.37)" stroke="rgba(255,0,255,0.42)" stroke-width="1.2"/>
<circle cx="296.2" cy="353.4" r="8.0" fill="rgba(255,0,255,0.37)" stroke="rgba(255,0,255,0.42)" stroke-width="1.2"/>
<circle cx="326.0" cy="353.4" r="8.0" fill="rgba(255,0,255,0.37)" stroke="rgba(255,0,255,0.42)" stroke-width="1.2"/>
<circle cx="340.3" cy="353.4" r="8.0" fill="rgba(255,0,255,0.37)" stroke="rgba(255,0,255,0.42)" stroke-width="1.2"/>
<circle cx="372.7" cy="353.4" r="8.0" fill="rgba(255,0,255,0.37)" stroke="rgba(255,0,255,0.42)" stroke-width="1.2"/>
<circle cx="289.7" cy="353.4" r="7.0" fill="rgba(255,0,255,0.37)" stroke="rgba(255,0,255,0.42)" stroke-width="1.2"/>
<circle cx="304.0" cy="353.4" r="7.0" fill="rgba(255,0,255,0.37)" stroke="rgba(255,0,255,0.42)" stroke-width="1.2"/>
<circle cx="318.2" cy="353.4" r="7.0" fill="rgba(255,0,255,0.37)" stroke="rgba(255,0,255,0.42)" stroke-width="1.2"/>
<circle cx="353.2" cy="353.4" r="7.0" fill="rgba(255,0,255,0.37)" stroke="rgba(255,0,255,0.42)" stroke-width="1.2"/>
<circle cx="447.8" cy="353.4" r="7.0" fill="rgba(255,0,255,0.37)" stroke="rgba(255,0,255,0.42)" stroke-width="1.2"/>
<circle cx="351.9" cy="353.4" r="6.4" fill="rgba(255,0,255,0.37)" stroke="rgba(255,0,255,0.42)" stroke-width="1.2"/>
<circle cx="302.7" cy="353.4" r="6.4" fill="rgba(255,0,255,0.37)" stroke="rgba(255,0,255,0.42)" stroke-width="1.2"/>
<circle cx="323.4" cy="353.4" r="6.2" fill="rgba(255,0,255,0.37)" stroke="rgba(255,0,255,0.42)" stroke-width="1.2"/>
<circle cx="315.0" cy="353.4" r="6.0" fill="rgba(255,0,255,0.37)" stroke="rgba(255,0,255,0.42)" stroke-width="1.2"/>
<circle cx="330.0" cy="353.4" r="6.0" fill="rgba(255,0,255,0.37)" stroke="rgba(255,0,255,0.42)" stroke-width="1.2"/>
<circle cx="337.0" cy="353.4" r="6.0" fill="rgba(255,0,255,0.37)" stroke="rgba(255,0,255,0.42)" stroke-width="1.2"/>
<circle cx="346.7" cy="353.4" r="6.0" fill="rgba(255,0,255,0.37)" stroke="rgba(255,0,255,0.42)" stroke-width="1.2"/>
<circle cx="363.0" cy="353.4" r="6.0" fill="rgba(255,0,255,0.37)" stroke="rgba(255,0,255,0.42)" stroke-width="1.2"/>
<circle cx="369.0" cy="353.4" r="6.0" fill="rgba(255,0,255,0.37)" stroke="rgba(255,0,255,0.42)" stroke-width="1.2"/>
<circle cx="377.8" cy="353.4" r="6.0" fill="rgba(255,0,255,0.37)" stroke="rgba(255,0,255,0.42)" stroke-width="1.2"/>
<circle cx="453.0" cy="353.4" r="6.0" fill="rgba(255,0,255,0.37)" stroke="rgba(255,0,255,0.42)" stroke-width="1.2"/>
<circle cx="501.0" cy="353.4" r="6.0" fill="rgba(255,0,255,0.37)" stroke="rgba(255,0,255,0.42)" stroke-width="1.2"/>
<circle cx="508.0" cy="353.4" r="6.0" fill="rgba(255,0,255,0.37)" stroke="rgba(255,0,255,0.42)" stroke-width="1.2"/>
<circle cx="364.8" cy="353.4" r="6.0" fill="rgba(255,0,255,0.37)" stroke="rgba(255,0,255,0.42)" stroke-width="1.2"/>
<circle cx="344.1" cy="353.4" r="5.9" fill="rgba(255,0,255,0.37)" stroke="rgba(255,0,255,0.42)" stroke-width="1.2"/>
<circle cx="336.3" cy="353.4" r="5.9" fill="rgba(255,0,255,0.37)" stroke="rgba(255,0,255,0.42)" stroke-width="1.2"/>
<circle cx="289.7" cy="353.4" r="5.7" fill="rgba(255,0,255,0.37)" stroke="rgba(255,0,255,0.42)" stroke-width="1.2"/>
<circle cx="372.6" cy="353.4" r="5.6" fill="rgba(255,0,255,0.37)" stroke="rgba(255,0,255,0.42)" stroke-width="1.2"/>
<circle cx="320.8" cy="353.4" r="5.6" fill="rgba(255,0,255,0.37)" stroke="rgba(255,0,255,0.42)" stroke-width="1.2"/>
<circle cx="284.5" cy="353.4" r="5.4" fill="rgba(255,0,255,0.37)" stroke="rgba(255,0,255,0.42)" stroke-width="1.2"/>
<circle cx="300.0" cy="353.4" r="5.0" fill="rgba(255,0,255,0.37)" stroke="rgba(255,0,255,0.42)" stroke-width="1.2"/>
<circle cx="308.0" cy="353.4" r="5.0" fill="rgba(255,0,255,0.37)" stroke="rgba(255,0,255,0.42)" stroke-width="1.2"/>
<circle cx="322.0" cy="353.4" r="5.0" fill="rgba(255,0,255,0.37)" stroke="rgba(255,0,255,0.42)" stroke-width="1.2"/>
<circle cx="356.0" cy="353.4" r="5.0" fill="rgba(255,0,255,0.37)" stroke="rgba(255,0,255,0.42)" stroke-width="1.2"/>
<circle cx="495.0" cy="353.4" r="5.0" fill="rgba(255,0,255,0.37)" stroke="rgba(255,0,255,0.42)" stroke-width="1.2"/>
<circle cx="527.6" cy="353.4" r="5.0" fill="rgba(255,0,255,0.37)" stroke="rgba(255,0,255,0.42)" stroke-width="1.2"/>
<circle cx="354.5" cy="353.4" r="4.9" fill="rgba(255,0,255,0.37)" stroke="rgba(255,0,255,0.42)" stroke-width="1.2"/>
<circle cx="359.7" cy="353.4" r="4.7" fill="rgba(255,0,255,0.37)" stroke="rgba(255,0,255,0.42)" stroke-width="1.2"/>
<circle cx="349.3" cy="353.4" r="4.6" fill="rgba(255,0,255,0.37)" stroke="rgba(255,0,255,0.42)" stroke-width="1.2"/>
<circle cx="287.1" cy="353.4" r="4.2" fill="rgba(255,0,255,0.37)" stroke="rgba(255,0,255,0.42)" stroke-width="1.2"/>
<circle cx="357.1" cy="353.4" r="4.1" fill="rgba(255,0,255,0.37)" stroke="rgba(255,0,255,0.42)" stroke-width="1.2"/>
<circle cx="305.3" cy="353.4" r="4.0" fill="rgba(255,0,255,0.37)" stroke="rgba(255,0,255,0.42)" stroke-width="1.2"/>
<circle cx="405.0" cy="353.4" r="4.0" fill="rgba(255,0,255,0.37)" stroke="rgba(255,0,255,0.42)" stroke-width="1.2"/>
<circle cx="424.5" cy="353.4" r="4.0" fill="rgba(255,0,255,0.37)" stroke="rgba(255,0,255,0.42)" stroke-width="1.2"/>
<circle cx="449.0" cy="353.4" r="4.0" fill="rgba(255,0,255,0.37)" stroke="rgba(255,0,255,0.42)" stroke-width="1.2"/>
<circle cx="471.0" cy="353.4" r="4.0" fill="rgba(255,0,255,0.37)" stroke="rgba(255,0,255,0.42)" stroke-width="1.2"/>
<circle cx="331.2" cy="353.4" r="3.9" fill="rgba(255,0,255,0.37)" stroke="rgba(255,0,255,0.42)" stroke-width="1.2"/>
<circle cx="297.5" cy="353.4" r="3.7" fill="rgba(255,0,255,0.37)" stroke="rgba(255,0,255,0.42)" stroke-width="1.2"/>
<circle cx="307.8" cy="353.4" r="3.7" fill="rgba(255,0,255,0.37)" stroke="rgba(255,0,255,0.42)" stroke-width="1.2"/>
<circle cx="435.5" cy="353.4" r="3.5" fill="rgba(255,0,255,0.37)" stroke="rgba(255,0,255,0.42)" stroke-width="1.2"/>
<circle cx="521.0" cy="353.4" r="3.5" fill="rgba(255,0,255,0.37)" stroke="rgba(255,0,255,0.42)" stroke-width="1.2"/>
<circle cx="280.6" cy="353.4" r="3.0" fill="rgba(255,0,255,0.37)" stroke="rgba(255,0,255,0.42)" stroke-width="1.2"/>
<circle cx="398.6" cy="353.4" r="3.0" fill="rgba(255,0,255,0.37)" stroke="rgba(255,0,255,0.42)" stroke-width="1.2"/>
<circle cx="414.0" cy="353.4" r="3.0" fill="rgba(255,0,255,0.37)" stroke="rgba(255,0,255,0.42)" stroke-width="1.2"/>
<circle cx="428.4" cy="353.4" r="3.0" fill="rgba(255,0,255,0.37)" stroke="rgba(255,0,255,0.42)" stroke-width="1.2"/>
<circle cx="486.0" cy="353.4" r="3.0" fill="rgba(255,0,255,0.37)" stroke="rgba(255,0,255,0.42)" stroke-width="1.2"/>
<circle cx="545.7" cy="353.4" r="3.0" fill="rgba(255,0,255,0.37)" stroke="rgba(255,0,255,0.42)" stroke-width="1.2"/>
<circle cx="421.8" cy="353.4" r="2.7" fill="rgba(255,0,255,0.37)" stroke="rgba(255,0,255,0.70)" stroke-width="1.2"/>
<circle cx="393.3" cy="353.4" r="2.7" fill="rgba(255,0,255,0.37)" stroke="rgba(255,0,255,0.70)" stroke-width="1.2"/>
<circle cx="502.1" cy="353.4" r="2.6" fill="rgba(255,0,255,0.37)" stroke="rgba(255,0,255,0.70)" stroke-width="1.2"/>
<circle cx="548.7" cy="353.4" r="2.6" fill="rgba(255,0,255,0.37)" stroke="rgba(255,0,255,0.70)" stroke-width="1.2"/>
<circle cx="398.5" cy="353.4" r="2.3" fill="rgba(255,0,255,0.37)" stroke="rgba(255,0,255,0.70)" stroke-width="1.2"/>
<circle cx="463.3" cy="353.4" r="2.3" fill="rgba(255,0,255,0.37)" stroke="rgba(255,0,255,0.70)" stroke-width="1.2"/>
<circle cx="481.4" cy="353.4" r="2.3" fill="rgba(255,0,255,0.37)" stroke="rgba(255,0,255,0.70)" stroke-width="1.2"/>
<circle cx="403.7" cy="353.4" r="2.1" fill="rgba(255,0,255,0.37)" stroke="rgba(255,0,255,0.70)" stroke-width="1.2"/>
<circle cx="528.0" cy="353.4" r="2.1" fill="rgba(255,0,255,0.37)" stroke="rgba(255,0,255,0.70)" stroke-width="1.2"/>
<circle cx="535.8" cy="353.4" r="2.0" fill="rgba(255,0,255,0.37)" stroke="rgba(255,0,255,0.70)" stroke-width="1.2"/>
<circle cx="392.7" cy="353.4" r="2.0" fill="rgba(255,0,255,0.37)" stroke="rgba(255,0,255,0.70)" stroke-width="1.2"/>
<circle cx="457.6" cy="353.4" r="2.0" fill="rgba(255,0,255,0.37)" stroke="rgba(255,0,255,0.70)" stroke-width="1.2"/>
<circle cx="536.7" cy="353.4" r="2.0" fill="rgba(255,0,255,0.37)" stroke="rgba(255,0,255,0.70)" stroke-width="1.2"/>
<circle cx="445.1" cy="353.4" r="2.0" fill="rgba(255,0,255,0.37)" stroke="rgba(255,0,255,0.70)" stroke-width="1.2"/>
</g>
<line x1="266.4" y1="432.5" x2="1043.5" y2="432.5" stroke="#ebebeb" stroke-width="2"/>
<line x1="266.4" y1="424.5" x2="266.4" y2="440.5" stroke="#ebebeb" stroke-width="2"/>
<line x1="1043.5" y1="424.5" x2="1043.5" y2="440.5" stroke="#ebebeb" stroke-width="2"/>
<g filter="url(#soft)">
<circle cx="267.0" cy="432.5" r="11.0" fill="rgba(255,0,255,0.37)" stroke="rgba(255,0,255,0.42)" stroke-width="1.2"/>
<circle cx="346.7" cy="432.5" r="11.0" fill="rgba(255,0,255,0.37)" stroke="rgba(255,0,255,0.42)" stroke-width="1.2"/>
<circle cx="333.8" cy="432.5" r="10.0" fill="rgba(255,0,255,0.37)" stroke="rgba(255,0,255,0.42)" stroke-width="1.2"/>
<circle cx="337.0" cy="432.5" r="10.0" fill="rgba(255,0,255,0.37)" stroke="rgba(255,0,255,0.42)" stroke-width="1.2"/>
<circle cx="345.0" cy="432.5" r="10.0" fill="rgba(255,0,255,0.37)" stroke="rgba(255,0,255,0.42)" stroke-width="1.2"/>
<circle cx="340.0" cy="432.5" r="9.0" fill="rgba(255,0,255,0.37)" stroke="rgba(255,0,255,0.42)" stroke-width="1.2"/>
<circle cx="341.0" cy="432.5" r="9.0" fill="rgba(255,0,255,0.37)" stroke="rgba(255,0,255,0.42)" stroke-width="1.2"/>
<circle cx="348.0" cy="432.5" r="9.0" fill="rgba(255,0,255,0.37)" stroke="rgba(255,0,255,0.42)" stroke-width="1.2"/>
<circle cx="503.0" cy="432.5" r="8.5" fill="rgba(255,0,255,0.37)" stroke="rgba(255,0,255,0.42)" stroke-width="1.2"/>
<circle cx="370.0" cy="432.5" r="8.0" fill="rgba(255,0,255,0.37)" stroke="rgba(255,0,255,0.42)" stroke-width="1.2"/>
<circle cx="487.0" cy="432.5" r="8.0" fill="rgba(255,0,255,0.37)" stroke="rgba(255,0,255,0.42)" stroke-width="1.2"/>
<circle cx="520.3" cy="432.5" r="7.7" fill="rgba(255,0,255,0.37)" stroke="rgba(255,0,255,0.42)" stroke-width="1.2"/>
<circle cx="393.3" cy="432.5" r="7.7" fill="rgba(255,0,255,0.37)" stroke="rgba(255,0,255,0.42)" stroke-width="1.2"/>
<circle cx="541.0" cy="432.5" r="7.6" fill="rgba(255,0,255,0.37)" stroke="rgba(255,0,255,0.42)" stroke-width="1.2"/>
<circle cx="522.8" cy="432.5" r="7.5" fill="rgba(255,0,255,0.37)" stroke="rgba(255,0,255,0.42)" stroke-width="1.2"/>
<circle cx="481.4" cy="432.5" r="7.0" fill="rgba(255,0,255,0.37)" stroke="rgba(255,0,255,0.42)" stroke-width="1.2"/>
<circle cx="415.0" cy="432.5" r="7.0" fill="rgba(255,0,255,0.37)" stroke="rgba(255,0,255,0.42)" stroke-width="1.2"/>
<circle cx="448.0" cy="432.5" r="7.0" fill="rgba(255,0,255,0.37)" stroke="rgba(255,0,255,0.42)" stroke-width="1.2"/>
<circle cx="495.0" cy="432.5" r="7.0" fill="rgba(255,0,255,0.37)" stroke="rgba(255,0,255,0.42)" stroke-width="1.2"/>
<circle cx="395.9" cy="432.5" r="6.9" fill="rgba(255,0,255,0.37)" stroke="rgba(255,0,255,0.42)" stroke-width="1.2"/>
<circle cx="341.5" cy="432.5" r="6.3" fill="rgba(255,0,255,0.37)" stroke="rgba(255,0,255,0.42)" stroke-width="1.2"/>
<circle cx="530.6" cy="432.5" r="6.2" fill="rgba(255,0,255,0.37)" stroke="rgba(255,0,255,0.42)" stroke-width="1.2"/>
<circle cx="452.9" cy="432.5" r="6.2" fill="rgba(255,0,255,0.37)" stroke="rgba(255,0,255,0.42)" stroke-width="1.2"/>
<circle cx="471.0" cy="432.5" r="5.7" fill="rgba(255,0,255,0.37)" stroke="rgba(255,0,255,0.42)" stroke-width="1.2"/>
<circle cx="489.2" cy="432.5" r="5.4" fill="rgba(255,0,255,0.37)" stroke="rgba(255,0,255,0.42)" stroke-width="1.2"/>
<circle cx="387.6" cy="432.5" r="13.5" fill="rgba(51,197,51,0.37)" stroke="rgba(51,197,51,0.42)" stroke-width="1.2"/>
<circle cx="312.4" cy="432.5" r="12.0" fill="rgba(51,197,51,0.37)" stroke="rgba(51,197,51,0.42)" stroke-width="1.2"/>
<circle cx="280.0" cy="432.5" r="10.0" fill="rgba(51,197,51,0.37)" stroke="rgba(51,197,51,0.42)" stroke-width="1.2"/>
<circle cx="326.0" cy="432.5" r="10.0" fill="rgba(51,197,51,0.37)" stroke="rgba(51,197,51,0.42)" stroke-width="1.2"/>
<circle cx="326.0" cy="432.5" r="9.5" fill="rgba(51,197,51,0.37)" stroke="rgba(51,197,51,0.42)" stroke-width="1.2"/>
<circle cx="281.0" cy="432.5" r="9.5" fill="rgba(51,197,51,0.37)" stroke="rgba(51,197,51,0.42)" stroke-width="1.2"/>
<circle cx="268.3" cy="432.5" r="9.0" fill="rgba(51,197,51,0.37)" stroke="rgba(51,197,51,0.42)" stroke-width="1.2"/>
<circle cx="332.5" cy="432.5" r="9.0" fill="rgba(51,197,51,0.37)" stroke="rgba(51,197,51,0.42)" stroke-width="1.2"/>
<circle cx="322.0" cy="432.5" r="9.0" fill="rgba(51,197,51,0.37)" stroke="rgba(51,197,51,0.42)" stroke-width="1.2"/>
<circle cx="329.0" cy="432.5" r="9.0" fill="rgba(51,197,51,0.37)" stroke="rgba(51,197,51,0.42)" stroke-width="1.2"/>
<circle cx="278.0" cy="432.5" r="9.0" fill="rgba(51,197,51,0.37)" stroke="rgba(51,197,51,0.42)" stroke-width="1.2"/>
<circle cx="398.6" cy="432.5" r="8.0" fill="rgba(51,197,51,0.37)" stroke="rgba(51,197,51,0.42)" stroke-width="1.2"/>
<circle cx="455.0" cy="432.5" r="8.0" fill="rgba(51,197,51,0.37)" stroke="rgba(51,197,51,0.42)" stroke-width="1.2"/>
<circle cx="283.0" cy="432.5" r="8.0" fill="rgba(51,197,51,0.37)" stroke="rgba(51,197,51,0.42)" stroke-width="1.2"/>
<circle cx="437.5" cy="432.5" r="7.0" fill="rgba(51,197,51,0.37)" stroke="rgba(51,197,51,0.42)" stroke-width="1.2"/>
<circle cx="440.0" cy="432.5" r="6.8" fill="rgba(51,197,51,0.37)" stroke="rgba(51,197,51,0.42)" stroke-width="1.2"/>
<circle cx="328.6" cy="432.5" r="6.1" fill="rgba(51,197,51,0.37)" stroke="rgba(51,197,51,0.42)" stroke-width="1.2"/>
<circle cx="525.0" cy="432.5" r="6.0" fill="rgba(51,197,51,0.37)" stroke="rgba(51,197,51,0.42)" stroke-width="1.2"/>
<circle cx="315.6" cy="432.5" r="5.9" fill="rgba(51,197,51,0.37)" stroke="rgba(51,197,51,0.42)" stroke-width="1.2"/>
<circle cx="383.0" cy="432.5" r="5.8" fill="rgba(51,197,51,0.37)" stroke="rgba(51,197,51,0.42)" stroke-width="1.2"/>
<circle cx="517.7" cy="432.5" r="5.8" fill="rgba(51,197,51,0.37)" stroke="rgba(51,197,51,0.42)" stroke-width="1.2"/>
<circle cx="351.9" cy="432.5" r="5.6" fill="rgba(51,197,51,0.37)" stroke="rgba(51,197,51,0.42)" stroke-width="1.2"/>
<circle cx="364.6" cy="432.5" r="12.0" fill="rgba(0,0,255,0.37)" stroke="rgba(0,0,255,0.42)" stroke-width="1.2"/>
<circle cx="454.0" cy="432.5" r="11.0" fill="rgba(0,0,255,0.37)" stroke="rgba(0,0,255,0.42)" stroke-width="1.2"/>
<circle cx="426.5" cy="432.5" r="11.0" fill="rgba(0,0,255,0.37)" stroke="rgba(0,0,255,0.42)" stroke-width="1.2"/>
<circle cx="455.0" cy="432.5" r="10.5" fill="rgba(0,0,255,0.37)" stroke="rgba(0,0,255,0.42)" stroke-width="1.2"/>
<circle cx="530.0" cy="432.5" r="10.5" fill="rgba(0,0,255,0.37)" stroke="rgba(0,0,255,0.42)" stroke-width="1.2"/>
<circle cx="427.0" cy="432.5" r="10.0" fill="rgba(0,0,255,0.37)" stroke="rgba(0,0,255,0.42)" stroke-width="1.2"/>
<circle cx="548.0" cy="432.5" r="8.0" fill="rgba(0,0,255,0.37)" stroke="rgba(0,0,255,0.42)" stroke-width="1.2"/>
<circle cx="440.0" cy="432.5" r="8.0" fill="rgba(0,0,255,0.37)" stroke="rgba(0,0,255,0.42)" stroke-width="1.2"/>
<circle cx="470.0" cy="432.5" r="8.0" fill="rgba(0,0,255,0.37)" stroke="rgba(0,0,255,0.42)" stroke-width="1.2"/>
<circle cx="515.0" cy="432.5" r="8.0" fill="rgba(0,0,255,0.37)" stroke="rgba(0,0,255,0.42)" stroke-width="1.2"/>
<circle cx="540.0" cy="432.5" r="8.0" fill="rgba(0,0,255,0.37)" stroke="rgba(0,0,255,0.42)" stroke-width="1.2"/>
<circle cx="455.5" cy="432.5" r="8.0" fill="rgba(0,0,255,0.37)" stroke="rgba(0,0,255,0.42)" stroke-width="1.2"/>
<circle cx="410.0" cy="432.5" r="7.0" fill="rgba(0,0,255,0.37)" stroke="rgba(0,0,255,0.42)" stroke-width="1.2"/>
<circle cx="525.4" cy="432.5" r="6.5" fill="rgba(0,0,255,0.37)" stroke="rgba(0,0,255,0.42)" stroke-width="1.2"/>
<circle cx="442.5" cy="432.5" r="6.4" fill="rgba(0,0,255,0.37)" stroke="rgba(0,0,255,0.42)" stroke-width="1.2"/>
<circle cx="434.8" cy="432.5" r="6.4" fill="rgba(0,0,255,0.37)" stroke="rgba(0,0,255,0.42)" stroke-width="1.2"/>
<circle cx="465.9" cy="432.5" r="6.0" fill="rgba(0,0,255,0.37)" stroke="rgba(0,0,255,0.42)" stroke-width="1.2"/>
<circle cx="320.8" cy="432.5" r="5.9" fill="rgba(0,0,255,0.37)" stroke="rgba(0,0,255,0.42)" stroke-width="1.2"/>
<circle cx="509.9" cy="432.5" r="5.9" fill="rgba(0,0,255,0.37)" stroke="rgba(0,0,255,0.42)" stroke-width="1.2"/>
<circle cx="494.3" cy="432.5" r="5.7" fill="rgba(0,0,255,0.37)" stroke="rgba(0,0,255,0.42)" stroke-width="1.2"/>
<circle cx="364.8" cy="432.5" r="5.6" fill="rgba(0,0,255,0.37)" stroke="rgba(0,0,255,0.42)" stroke-width="1.2"/>
<circle cx="328.6" cy="432.5" r="5.1" fill="rgba(0,0,255,0.37)" stroke="rgba(0,0,255,0.42)" stroke-width="1.2"/>
<circle cx="409.0" cy="432.5" r="9.5" fill="rgba(121,51,255,0.37)" stroke="rgba(121,51,255,0.42)" stroke-width="1.2"/>
<circle cx="427.0" cy="432.5" r="9.5" fill="rgba(121,51,255,0.37)" stroke="rgba(121,51,255,0.42)" stroke-width="1.2"/>
<circle cx="492.6" cy="432.5" r="9.5" fill="rgba(121,51,255,0.37)" stroke="rgba(121,51,255,0.42)" stroke-width="1.2"/>
<circle cx="495.0" cy="432.5" r="9.5" fill="rgba(121,51,255,0.37)" stroke="rgba(121,51,255,0.42)" stroke-width="1.2"/>
<circle cx="501.7" cy="432.5" r="9.0" fill="rgba(121,51,255,0.37)" stroke="rgba(121,51,255,0.42)" stroke-width="1.2"/>
<circle cx="485.0" cy="432.5" r="9.0" fill="rgba(121,51,255,0.37)" stroke="rgba(121,51,255,0.42)" stroke-width="1.2"/>
<circle cx="490.0" cy="432.5" r="9.0" fill="rgba(121,51,255,0.37)" stroke="rgba(121,51,255,0.42)" stroke-width="1.2"/>
<circle cx="500.0" cy="432.5" r="9.0" fill="rgba(121,51,255,0.37)" stroke="rgba(121,51,255,0.42)" stroke-width="1.2"/>
<circle cx="482.0" cy="432.5" r="8.5" fill="rgba(121,51,255,0.37)" stroke="rgba(121,51,255,0.42)" stroke-width="1.2"/>
<circle cx="480.0" cy="432.5" r="8.5" fill="rgba(121,51,255,0.37)" stroke="rgba(121,51,255,0.42)" stroke-width="1.2"/>
<circle cx="352.0" cy="432.5" r="8.0" fill="rgba(121,51,255,0.37)" stroke="rgba(121,51,255,0.42)" stroke-width="1.2"/>
<circle cx="380.4" cy="432.5" r="8.0" fill="rgba(121,51,255,0.37)" stroke="rgba(121,51,255,0.42)" stroke-width="1.2"/>
<circle cx="392.0" cy="432.5" r="8.0" fill="rgba(121,51,255,0.37)" stroke="rgba(121,51,255,0.42)" stroke-width="1.2"/>
<circle cx="445.0" cy="432.5" r="8.0" fill="rgba(121,51,255,0.37)" stroke="rgba(121,51,255,0.42)" stroke-width="1.2"/>
<circle cx="462.0" cy="432.5" r="8.0" fill="rgba(121,51,255,0.37)" stroke="rgba(121,51,255,0.42)" stroke-width="1.2"/>
<circle cx="393.3" cy="432.5" r="7.5" fill="rgba(121,51,255,0.37)" stroke="rgba(121,51,255,0.42)" stroke-width="1.2"/>
<circle cx="302.7" cy="432.5" r="7.4" fill="rgba(121,51,255,0.37)" stroke="rgba(121,51,255,0.42)" stroke-width="1.2"/>
<circle cx="473.6" cy="432.5" r="7.3" fill="rgba(121,51,255,0.37)" stroke="rgba(121,51,255,0.42)" stroke-width="1.2"/>
<circle cx="360.0" cy="432.5" r="7.0" fill="rgba(121,51,255,0.37)" stroke="rgba(121,51,255,0.42)" stroke-width="1.2"/>
<circle cx="372.0" cy="432.5" r="7.0" fill="rgba(121,51,255,0.37)" stroke="rgba(121,51,255,0.42)" stroke-width="1.2"/>
<circle cx="400.0" cy="432.5" r="7.0" fill="rgba(121,51,255,0.37)" stroke="rgba(121,51,255,0.42)" stroke-width="1.2"/>
<circle cx="418.0" cy="432.5" r="7.0" fill="rgba(121,51,255,0.37)" stroke="rgba(121,51,255,0.42)" stroke-width="1.2"/>
<circle cx="510.0" cy="432.5" r="7.0" fill="rgba(121,51,255,0.37)" stroke="rgba(121,51,255,0.42)" stroke-width="1.2"/>
<circle cx="520.0" cy="432.5" r="7.0" fill="rgba(121,51,255,0.37)" stroke="rgba(121,51,255,0.42)" stroke-width="1.2"/>
<circle cx="535.0" cy="432.5" r="7.0" fill="rgba(121,51,255,0.37)" stroke="rgba(121,51,255,0.42)" stroke-width="1.2"/>
<circle cx="546.0" cy="432.5" r="7.0" fill="rgba(121,51,255,0.37)" stroke="rgba(121,51,255,0.42)" stroke-width="1.2"/>
<circle cx="357.1" cy="432.5" r="6.8" fill="rgba(121,51,255,0.37)" stroke="rgba(121,51,255,0.42)" stroke-width="1.2"/>
<circle cx="424.4" cy="432.5" r="6.6" fill="rgba(121,51,255,0.37)" stroke="rgba(121,51,255,0.42)" stroke-width="1.2"/>
<circle cx="331.2" cy="432.5" r="6.6" fill="rgba(121,51,255,0.37)" stroke="rgba(121,51,255,0.42)" stroke-width="1.2"/>
<circle cx="447.7" cy="432.5" r="6.2" fill="rgba(121,51,255,0.37)" stroke="rgba(121,51,255,0.42)" stroke-width="1.2"/>
<circle cx="336.3" cy="432.5" r="6.1" fill="rgba(121,51,255,0.37)" stroke="rgba(121,51,255,0.42)" stroke-width="1.2"/>
<circle cx="301.4" cy="432.5" r="6.0" fill="rgba(121,51,255,0.37)" stroke="rgba(121,51,255,0.42)" stroke-width="1.2"/>
<circle cx="344.0" cy="432.5" r="6.0" fill="rgba(121,51,255,0.37)" stroke="rgba(121,51,255,0.42)" stroke-width="1.2"/>
<circle cx="541.0" cy="432.5" r="5.8" fill="rgba(121,51,255,0.37)" stroke="rgba(121,51,255,0.42)" stroke-width="1.2"/>
<circle cx="543.6" cy="432.5" r="5.8" fill="rgba(121,51,255,0.37)" stroke="rgba(121,51,255,0.42)" stroke-width="1.2"/>
<circle cx="344.1" cy="432.5" r="5.4" fill="rgba(121,51,255,0.37)" stroke="rgba(121,51,255,0.42)" stroke-width="1.2"/>
<circle cx="403.7" cy="432.5" r="5.2" fill="rgba(121,51,255,0.37)" stroke="rgba(121,51,255,0.42)" stroke-width="1.2"/>
<circle cx="367.4" cy="432.5" r="5.1" fill="rgba(121,51,255,0.37)" stroke="rgba(121,51,255,0.42)" stroke-width="1.2"/>
<circle cx="528.0" cy="432.5" r="5.1" fill="rgba(121,51,255,0.37)" stroke="rgba(121,51,255,0.42)" stroke-width="1.2"/>
<circle cx="496.9" cy="432.5" r="5.1" fill="rgba(121,51,255,0.37)" stroke="rgba(121,51,255,0.42)" stroke-width="1.2"/>
<circle cx="320.0" cy="432.5" r="5.0" fill="rgba(121,51,255,0.37)" stroke="rgba(121,51,255,0.42)" stroke-width="1.2"/>
<circle cx="468.0" cy="432.5" r="10.0" fill="rgba(0,255,255,0.37)" stroke="rgba(0,255,255,0.42)" stroke-width="1.2"/>
<circle cx="514.6" cy="432.5" r="9.0" fill="rgba(0,255,255,0.37)" stroke="rgba(0,255,255,0.42)" stroke-width="1.2"/>
<circle cx="426.5" cy="432.5" r="8.0" fill="rgba(0,255,255,0.37)" stroke="rgba(0,255,255,0.42)" stroke-width="1.2"/>
<circle cx="352.0" cy="432.5" r="7.0" fill="rgba(0,255,255,0.37)" stroke="rgba(0,255,255,0.42)" stroke-width="1.2"/>
<circle cx="428.4" cy="432.5" r="7.0" fill="rgba(0,255,255,0.37)" stroke="rgba(0,255,255,0.42)" stroke-width="1.2"/>
<circle cx="455.0" cy="432.5" r="7.0" fill="rgba(0,255,255,0.37)" stroke="rgba(0,255,255,0.42)" stroke-width="1.2"/>
<circle cx="367.5" cy="432.5" r="6.0" fill="rgba(0,255,255,0.37)" stroke="rgba(0,255,255,0.42)" stroke-width="1.2"/>
<circle cx="454.3" cy="432.5" r="6.0" fill="rgba(0,255,255,0.37)" stroke="rgba(0,255,255,0.42)" stroke-width="1.2"/>
<circle cx="446.0" cy="432.5" r="6.0" fill="rgba(0,255,255,0.37)" stroke="rgba(0,255,255,0.42)" stroke-width="1.2"/>
<circle cx="462.8" cy="432.5" r="6.0" fill="rgba(0,255,255,0.37)" stroke="rgba(0,255,255,0.42)" stroke-width="1.2"/>
<circle cx="519.8" cy="432.5" r="6.0" fill="rgba(0,255,255,0.37)" stroke="rgba(0,255,255,0.42)" stroke-width="1.2"/>
<circle cx="420.6" cy="432.5" r="5.5" fill="rgba(0,255,255,0.37)" stroke="rgba(0,255,255,0.42)" stroke-width="1.2"/>
<circle cx="447.8" cy="432.5" r="5.5" fill="rgba(0,255,255,0.37)" stroke="rgba(0,255,255,0.42)" stroke-width="1.2"/>
<circle cx="491.3" cy="432.5" r="5.5" fill="rgba(0,255,255,0.37)" stroke="rgba(0,255,255,0.42)" stroke-width="1.2"/>
<circle cx="278.0" cy="432.5" r="5.0" fill="rgba(0,255,255,0.37)" stroke="rgba(0,255,255,0.42)" stroke-width="1.2"/>
<circle cx="304.6" cy="432.5" r="5.0" fill="rgba(0,255,255,0.37)" stroke="rgba(0,255,255,0.42)" stroke-width="1.2"/>
<circle cx="331.2" cy="432.5" r="5.0" fill="rgba(0,255,255,0.37)" stroke="rgba(0,255,255,0.42)" stroke-width="1.2"/>
<circle cx="403.8" cy="432.5" r="5.0" fill="rgba(0,255,255,0.37)" stroke="rgba(0,255,255,0.42)" stroke-width="1.2"/>
<circle cx="434.9" cy="432.5" r="5.0" fill="rgba(0,255,255,0.37)" stroke="rgba(0,255,255,0.42)" stroke-width="1.2"/>
<circle cx="441.4" cy="432.5" r="5.0" fill="rgba(0,255,255,0.37)" stroke="rgba(0,255,255,0.42)" stroke-width="1.2"/>
<circle cx="436.8" cy="432.5" r="5.0" fill="rgba(0,255,255,0.37)" stroke="rgba(0,255,255,0.42)" stroke-width="1.2"/>
<circle cx="432.0" cy="432.5" r="5.0" fill="rgba(0,255,255,0.37)" stroke="rgba(0,255,255,0.42)" stroke-width="1.2"/>
<circle cx="451.0" cy="432.5" r="5.0" fill="rgba(0,255,255,0.37)" stroke="rgba(0,255,255,0.42)" stroke-width="1.2"/>
<circle cx="459.0" cy="432.5" r="5.0" fill="rgba(0,255,255,0.37)" stroke="rgba(0,255,255,0.42)" stroke-width="1.2"/>
<circle cx="269.0" cy="432.5" r="4.5" fill="rgba(0,255,255,0.37)" stroke="rgba(0,255,255,0.42)" stroke-width="1.2"/>
<circle cx="310.4" cy="432.5" r="4.5" fill="rgba(0,255,255,0.37)" stroke="rgba(0,255,255,0.42)" stroke-width="1.2"/>
<circle cx="380.4" cy="432.5" r="4.5" fill="rgba(0,255,255,0.37)" stroke="rgba(0,255,255,0.42)" stroke-width="1.2"/>
<circle cx="486.0" cy="432.5" r="4.5" fill="rgba(0,255,255,0.37)" stroke="rgba(0,255,255,0.42)" stroke-width="1.2"/>
<circle cx="538.0" cy="432.5" r="4.5" fill="rgba(0,255,255,0.37)" stroke="rgba(0,255,255,0.42)" stroke-width="1.2"/>
<circle cx="282.0" cy="432.5" r="4.0" fill="rgba(0,255,255,0.37)" stroke="rgba(0,255,255,0.42)" stroke-width="1.2"/>
<circle cx="315.0" cy="432.5" r="4.0" fill="rgba(0,255,255,0.37)" stroke="rgba(0,255,255,0.42)" stroke-width="1.2"/>
<circle cx="346.7" cy="432.5" r="4.0" fill="rgba(0,255,255,0.37)" stroke="rgba(0,255,255,0.42)" stroke-width="1.2"/>
<circle cx="358.0" cy="432.5" r="4.0" fill="rgba(0,255,255,0.37)" stroke="rgba(0,255,255,0.42)" stroke-width="1.2"/>
<circle cx="375.2" cy="432.5" r="4.0" fill="rgba(0,255,255,0.37)" stroke="rgba(0,255,255,0.42)" stroke-width="1.2"/>
<circle cx="385.6" cy="432.5" r="4.0" fill="rgba(0,255,255,0.37)" stroke="rgba(0,255,255,0.42)" stroke-width="1.2"/>
<circle cx="413.5" cy="432.5" r="4.0" fill="rgba(0,255,255,0.37)" stroke="rgba(0,255,255,0.42)" stroke-width="1.2"/>
<circle cx="496.5" cy="432.5" r="4.0" fill="rgba(0,255,255,0.37)" stroke="rgba(0,255,255,0.42)" stroke-width="1.2"/>
<circle cx="528.9" cy="432.5" r="4.0" fill="rgba(0,255,255,0.37)" stroke="rgba(0,255,255,0.42)" stroke-width="1.2"/>
<circle cx="372.0" cy="432.5" r="4.0" fill="rgba(0,255,255,0.37)" stroke="rgba(0,255,255,0.42)" stroke-width="1.2"/>
<circle cx="408.0" cy="432.5" r="4.0" fill="rgba(0,255,255,0.37)" stroke="rgba(0,255,255,0.42)" stroke-width="1.2"/>
<circle cx="524.0" cy="432.5" r="4.0" fill="rgba(0,255,255,0.37)" stroke="rgba(0,255,255,0.42)" stroke-width="1.2"/>
<circle cx="533.0" cy="432.5" r="4.0" fill="rgba(0,255,255,0.37)" stroke="rgba(0,255,255,0.42)" stroke-width="1.2"/>
<circle cx="535.8" cy="432.5" r="4.0" fill="rgba(0,255,255,0.37)" stroke="rgba(0,255,255,0.42)" stroke-width="1.2"/>
<circle cx="473.6" cy="432.5" r="3.9" fill="rgba(0,255,255,0.37)" stroke="rgba(0,255,255,0.42)" stroke-width="1.2"/>
<circle cx="427.0" cy="432.5" r="3.9" fill="rgba(0,255,255,0.37)" stroke="rgba(0,255,255,0.42)" stroke-width="1.2"/>
<circle cx="281.9" cy="432.5" r="3.9" fill="rgba(0,255,255,0.37)" stroke="rgba(0,255,255,0.42)" stroke-width="1.2"/>
<circle cx="471.0" cy="432.5" r="3.9" fill="rgba(0,255,255,0.37)" stroke="rgba(0,255,255,0.42)" stroke-width="1.2"/>
<circle cx="388.1" cy="432.5" r="3.9" fill="rgba(0,255,255,0.37)" stroke="rgba(0,255,255,0.42)" stroke-width="1.2"/>
<circle cx="512.5" cy="432.5" r="3.9" fill="rgba(0,255,255,0.37)" stroke="rgba(0,255,255,0.42)" stroke-width="1.2"/>
<circle cx="538.4" cy="432.5" r="3.8" fill="rgba(0,255,255,0.37)" stroke="rgba(0,255,255,0.42)" stroke-width="1.2"/>
<circle cx="362.2" cy="432.5" r="3.8" fill="rgba(0,255,255,0.37)" stroke="rgba(0,255,255,0.42)" stroke-width="1.2"/>
<circle cx="341.5" cy="432.5" r="3.8" fill="rgba(0,255,255,0.37)" stroke="rgba(0,255,255,0.42)" stroke-width="1.2"/>
<circle cx="476.2" cy="432.5" r="3.8" fill="rgba(0,255,255,0.37)" stroke="rgba(0,255,255,0.42)" stroke-width="1.2"/>
<circle cx="349.3" cy="432.5" r="3.7" fill="rgba(0,255,255,0.37)" stroke="rgba(0,255,255,0.42)" stroke-width="1.2"/>
<circle cx="450.3" cy="432.5" r="3.7" fill="rgba(0,255,255,0.37)" stroke="rgba(0,255,255,0.42)" stroke-width="1.2"/>
<circle cx="408.9" cy="432.5" r="3.6" fill="rgba(0,255,255,0.37)" stroke="rgba(0,255,255,0.42)" stroke-width="1.2"/>
<circle cx="271.6" cy="432.5" r="3.6" fill="rgba(0,255,255,0.37)" stroke="rgba(0,255,255,0.42)" stroke-width="1.2"/>
<circle cx="468.4" cy="432.5" r="3.5" fill="rgba(0,255,255,0.37)" stroke="rgba(0,255,255,0.42)" stroke-width="1.2"/>
<circle cx="400.0" cy="432.5" r="3.5" fill="rgba(0,255,255,0.37)" stroke="rgba(0,255,255,0.42)" stroke-width="1.2"/>
<circle cx="543.0" cy="432.5" r="3.5" fill="rgba(0,255,255,0.37)" stroke="rgba(0,255,255,0.42)" stroke-width="1.2"/>
<circle cx="338.9" cy="432.5" r="3.4" fill="rgba(0,255,255,0.37)" stroke="rgba(0,255,255,0.42)" stroke-width="1.2"/>
<circle cx="333.7" cy="432.5" r="3.4" fill="rgba(0,255,255,0.37)" stroke="rgba(0,255,255,0.42)" stroke-width="1.2"/>
<circle cx="546.2" cy="432.5" r="3.4" fill="rgba(0,255,255,0.37)" stroke="rgba(0,255,255,0.42)" stroke-width="1.2"/>
<circle cx="460.7" cy="432.5" r="3.4" fill="rgba(0,255,255,0.37)" stroke="rgba(0,255,255,0.42)" stroke-width="1.2"/>
<circle cx="478.8" cy="432.5" r="3.3" fill="rgba(0,255,255,0.37)" stroke="rgba(0,255,255,0.42)" stroke-width="1.2"/>
<circle cx="310.4" cy="432.5" r="3.3" fill="rgba(0,255,255,0.37)" stroke="rgba(0,255,255,0.42)" stroke-width="1.2"/>
<circle cx="357.1" cy="432.5" r="3.2" fill="rgba(0,255,255,0.37)" stroke="rgba(0,255,255,0.42)" stroke-width="1.2"/>
<circle cx="375.2" cy="432.5" r="3.2" fill="rgba(0,255,255,0.37)" stroke="rgba(0,255,255,0.42)" stroke-width="1.2"/>
<circle cx="543.6" cy="432.5" r="3.2" fill="rgba(0,255,255,0.37)" stroke="rgba(0,255,255,0.42)" stroke-width="1.2"/>
<circle cx="398.5" cy="432.5" r="3.2" fill="rgba(0,255,255,0.37)" stroke="rgba(0,255,255,0.42)" stroke-width="1.2"/>
<circle cx="481.4" cy="432.5" r="3.1" fill="rgba(0,255,255,0.37)" stroke="rgba(0,255,255,0.42)" stroke-width="1.2"/>
<circle cx="455.5" cy="432.5" r="3.1" fill="rgba(0,255,255,0.37)" stroke="rgba(0,255,255,0.42)" stroke-width="1.2"/>
<circle cx="440.0" cy="432.5" r="3.1" fill="rgba(0,255,255,0.37)" stroke="rgba(0,255,255,0.42)" stroke-width="1.2"/>
<circle cx="494.3" cy="432.5" r="3.1" fill="rgba(0,255,255,0.37)" stroke="rgba(0,255,255,0.42)" stroke-width="1.2"/>
<circle cx="323.0" cy="432.5" r="3.0" fill="rgba(0,255,255,0.37)" stroke="rgba(0,255,255,0.42)" stroke-width="1.2"/>
<circle cx="341.5" cy="432.5" r="3.0" fill="rgba(0,255,255,0.37)" stroke="rgba(0,255,255,0.42)" stroke-width="1.2"/>
<circle cx="390.0" cy="432.5" r="3.0" fill="rgba(0,255,255,0.37)" stroke="rgba(0,255,255,0.42)" stroke-width="1.2"/>
<circle cx="395.3" cy="432.5" r="3.0" fill="rgba(0,255,255,0.37)" stroke="rgba(0,255,255,0.42)" stroke-width="1.2"/>
<circle cx="473.0" cy="432.5" r="3.0" fill="rgba(0,255,255,0.37)" stroke="rgba(0,255,255,0.42)" stroke-width="1.2"/>
<circle cx="506.2" cy="432.5" r="3.0" fill="rgba(0,255,255,0.37)" stroke="rgba(0,255,255,0.42)" stroke-width="1.2"/>
<circle cx="548.3" cy="432.5" r="3.0" fill="rgba(0,255,255,0.37)" stroke="rgba(0,255,255,0.42)" stroke-width="1.2"/>
<circle cx="517.7" cy="432.5" r="3.0" fill="rgba(0,255,255,0.37)" stroke="rgba(0,255,255,0.70)" stroke-width="1.2"/>
<circle cx="406.3" cy="432.5" r="3.0" fill="rgba(0,255,255,0.37)" stroke="rgba(0,255,255,0.70)" stroke-width="1.2"/>
<circle cx="520.3" cy="432.5" r="2.9" fill="rgba(0,255,255,0.37)" stroke="rgba(0,255,255,0.70)" stroke-width="1.2"/>
<circle cx="323.4" cy="432.5" r="2.9" fill="rgba(0,255,255,0.37)" stroke="rgba(0,255,255,0.70)" stroke-width="1.2"/>
<circle cx="528.0" cy="432.5" r="2.8" fill="rgba(0,255,255,0.37)" stroke="rgba(0,255,255,0.70)" stroke-width="1.2"/>
<circle cx="364.8" cy="432.5" r="2.8" fill="rgba(0,255,255,0.37)" stroke="rgba(0,255,255,0.70)" stroke-width="1.2"/>
<circle cx="419.2" cy="432.5" r="2.8" fill="rgba(0,255,255,0.37)" stroke="rgba(0,255,255,0.70)" stroke-width="1.2"/>
<circle cx="533.2" cy="432.5" r="2.8" fill="rgba(0,255,255,0.37)" stroke="rgba(0,255,255,0.70)" stroke-width="1.2"/>
<circle cx="307.8" cy="432.5" r="2.7" fill="rgba(0,255,255,0.37)" stroke="rgba(0,255,255,0.70)" stroke-width="1.2"/>
<circle cx="530.6" cy="432.5" r="2.7" fill="rgba(0,255,255,0.37)" stroke="rgba(0,255,255,0.70)" stroke-width="1.2"/>
<circle cx="507.3" cy="432.5" r="2.6" fill="rgba(0,255,255,0.37)" stroke="rgba(0,255,255,0.70)" stroke-width="1.2"/>
<circle cx="390.7" cy="432.5" r="2.6" fill="rgba(0,255,255,0.37)" stroke="rgba(0,255,255,0.70)" stroke-width="1.2"/>
<circle cx="509.9" cy="432.5" r="2.5" fill="rgba(0,255,255,0.37)" stroke="rgba(0,255,255,0.70)" stroke-width="1.2"/>
<circle cx="385.6" cy="432.5" r="2.5" fill="rgba(0,255,255,0.37)" stroke="rgba(0,255,255,0.70)" stroke-width="1.2"/>
<circle cx="525.4" cy="432.5" r="2.4" fill="rgba(0,255,255,0.37)" stroke="rgba(0,255,255,0.70)" stroke-width="1.2"/>
<circle cx="437.4" cy="432.5" r="2.4" fill="rgba(0,255,255,0.37)" stroke="rgba(0,255,255,0.70)" stroke-width="1.2"/>
<circle cx="300.1" cy="432.5" r="2.3" fill="rgba(0,255,255,0.37)" stroke="rgba(0,255,255,0.70)" stroke-width="1.2"/>
<circle cx="432.2" cy="432.5" r="2.3" fill="rgba(0,255,255,0.37)" stroke="rgba(0,255,255,0.70)" stroke-width="1.2"/>
<circle cx="331.2" cy="432.5" r="2.3" fill="rgba(0,255,255,0.37)" stroke="rgba(0,255,255,0.70)" stroke-width="1.2"/>
<circle cx="302.7" cy="432.5" r="2.2" fill="rgba(0,255,255,0.37)" stroke="rgba(0,255,255,0.70)" stroke-width="1.2"/>
<circle cx="411.5" cy="432.5" r="2.2" fill="rgba(0,255,255,0.37)" stroke="rgba(0,255,255,0.70)" stroke-width="1.2"/>
<circle cx="367.4" cy="432.5" r="2.1" fill="rgba(0,255,255,0.37)" stroke="rgba(0,255,255,0.70)" stroke-width="1.2"/>
<circle cx="491.8" cy="432.5" r="2.1" fill="rgba(0,255,255,0.37)" stroke="rgba(0,255,255,0.70)" stroke-width="1.2"/>
<circle cx="274.2" cy="432.5" r="2.0" fill="rgba(0,255,255,0.37)" stroke="rgba(0,255,255,0.70)" stroke-width="1.2"/>
<circle cx="291.0" cy="432.5" r="2.0" fill="rgba(0,255,255,0.37)" stroke="rgba(0,255,255,0.70)" stroke-width="1.2"/>
<circle cx="293.6" cy="432.5" r="2.0" fill="rgba(0,255,255,0.37)" stroke="rgba(0,255,255,0.70)" stroke-width="1.2"/>
<circle cx="287.0" cy="432.5" r="2.0" fill="rgba(0,255,255,0.37)" stroke="rgba(0,255,255,0.70)" stroke-width="1.2"/>
<circle cx="297.0" cy="432.5" r="2.0" fill="rgba(0,255,255,0.37)" stroke="rgba(0,255,255,0.70)" stroke-width="1.2"/>
<circle cx="336.4" cy="432.5" r="2.0" fill="rgba(0,255,255,0.37)" stroke="rgba(0,255,255,0.70)" stroke-width="1.2"/>
<circle cx="478.3" cy="432.5" r="2.0" fill="rgba(0,255,255,0.37)" stroke="rgba(0,255,255,0.70)" stroke-width="1.2"/>
</g></svg>
<div class="lbl" style="right:1297.0px;top:112.1px;font-size:14.8px;line-height:18px;transform:scaleX(1.072)">1790 Love and Freindship</div>
<div class="val" style="left:1050px;top:110.7px;font-size:13px;line-height:16px">99</div>
<div class="lbl" style="right:1297.0px;top:191.2px;font-size:14.8px;line-height:18px;transform:scaleX(1.063)">1793 Lady Susan</div>
<div class="val" style="left:1050px;top:189.8px;font-size:13px;line-height:16px">138</div>
<div class="lbl" style="right:1297.0px;top:270.2px;font-size:14.8px;line-height:18px;transform:scaleX(1.048)">1811 Sense and Sensibilit...</div>
<div class="val" style="left:1050px;top:268.8px;font-size:13px;line-height:16px">927</div>
<div class="lbl" style="right:1297.0px;top:349.3px;font-size:14.8px;line-height:18px;transform:scaleX(1.061)">1813 Pride and Prejudice</div>
<div class="val" style="left:1050px;top:347.9px;font-size:13px;line-height:16px">1812</div>
<div class="lbl" style="right:1297.0px;top:428.4px;font-size:14.8px;line-height:18px;transform:scaleX(1.065)">1814 Mansfield Park</div>
<div class="val" style="left:1050px;top:427.0px;font-size:13px;line-height:16px">1531</div>
</div>
<div class="panel" id="panel2" style="left:551px;top:265px;width:992px;height:372px">
<div class="hdr" style="width:992px;height:38px"><svg class="eye" style="left:9.5px;top:10.8px;width:19px;height:12.6px" viewBox="0 0 28 18"><path d="M1 9 C5 2.5 9.5 0.8 14 0.8 C18.5 0.8 23 2.5 27 9 C23 15.5 18.5 17.2 14 17.2 C9.5 17.2 5 15.5 1 9 Z" fill="none" stroke="#7fb2e3" stroke-width="2.3"/><circle cx="14" cy="8.2" r="6.3" fill="#7fb2e3"/><path d="M10.2 7.4 A3.9 3.9 0 0 1 13.6 4" fill="none" stroke="#cfe2f5" stroke-width="1.3" stroke-linecap="round"/></svg><div class="title" id="t2" style="left:33.3px;top:4.7px;font-size:17.8px;line-height:22px">Bubblelines</div><div class="help" id="h2" style="left:968px;top:5.5px;font-size:18.5px;line-height:22px">?</div></div>
<div class="legend" id="l2" style="top:44.7px;font-size:14.6px;line-height:18px"><span style="left:3.7px;color:#0000ff">mr</span><span style="left:33.0px;color:#3fc63f">mrs</span><span style="left:69.5px;color:#ff00ff">miss</span><span style="left:112.0px;color:#8440f5">said</span><span style="left:152.2px;color:#00ffff">think</span></div>
<svg class="chart" width="992" height="372" viewBox="0 0 992 372"><defs><filter id="soft2" x="-5%" y="-50%" width="110%" height="200%"><feConvolveMatrix order="3" kernelMatrix="0.03 0.10 0.03 0.10 0.48 0.10 0.03 0.10 0.03" divisor="1" edgeMode="none" preserveAlpha="false"/></filter></defs><line x1="237.2" y1="101.0" x2="922.0" y2="101.0" stroke="#ebebeb" stroke-width="1.6"/>
<line x1="237.2" y1="94.0" x2="237.2" y2="108.0" stroke="#ebebeb" stroke-width="1.6"/>
<line x1="922.0" y1="94.0" x2="922.0" y2="108.0" stroke="#ebebeb" stroke-width="1.6"/>
<g filter="url(#soft2)">
<circle cx="237.2" cy="101.0" r="12.8" fill="rgba(121,51,255,0.37)" stroke="rgba(121,51,255,0.35)" stroke-width="1"/>
<circle cx="305.7" cy="101.0" r="11.8" fill="rgba(121,51,255,0.37)" stroke="rgba(121,51,255,0.35)" stroke-width="1"/>
<circle cx="374.2" cy="101.0" r="11.2" fill="rgba(121,51,255,0.37)" stroke="rgba(121,51,255,0.35)" stroke-width="1"/>
<circle cx="442.7" cy="101.0" r="7.2" fill="rgba(121,51,255,0.37)" stroke="rgba(121,51,255,0.35)" stroke-width="1"/>
<circle cx="511.2" cy="101.0" r="11.7" fill="rgba(121,51,255,0.37)" stroke="rgba(121,51,255,0.35)" stroke-width="1"/>
<circle cx="579.7" cy="101.0" r="8.0" fill="rgba(121,51,255,0.37)" stroke="rgba(121,51,255,0.35)" stroke-width="1"/>
<circle cx="648.2" cy="101.0" r="1.5" fill="rgba(121,51,255,0.37)" stroke="rgba(121,51,255,0.35)" stroke-width="1"/>
<circle cx="716.7" cy="101.0" r="12.2" fill="rgba(121,51,255,0.37)" stroke="rgba(121,51,255,0.35)" stroke-width="1"/>
<circle cx="785.2" cy="101.0" r="14.0" fill="rgba(121,51,255,0.37)" stroke="rgba(121,51,255,0.35)" stroke-width="1"/>
<circle cx="853.7" cy="101.0" r="10.6" fill="rgba(121,51,255,0.37)" stroke="rgba(121,51,255,0.35)" stroke-width="1"/>
</g>
<line x1="237.2" y1="170.3" x2="922.0" y2="170.3" stroke="#ebebeb" stroke-width="1.6"/>
<line x1="237.2" y1="163.3" x2="237.2" y2="177.3" stroke="#ebebeb" stroke-width="1.6"/>
<line x1="922.0" y1="163.3" x2="922.0" y2="177.3" stroke="#ebebeb" stroke-width="1.6"/>
<g filter="url(#soft2)">
<circle cx="237.2" cy="170.3" r="12.2" fill="rgba(0,0,255,0.37)" stroke="rgba(0,0,255,0.35)" stroke-width="1"/>
<circle cx="237.2" cy="170.3" r="9.3" fill="rgba(51,197,51,0.37)" stroke="rgba(51,197,51,0.35)" stroke-width="1"/>
<circle cx="305.7" cy="170.3" r="11.8" fill="rgba(0,0,255,0.37)" stroke="rgba(0,0,255,0.35)" stroke-width="1"/>
<circle cx="305.7" cy="170.3" r="10.8" fill="rgba(51,197,51,0.37)" stroke="rgba(51,197,51,0.35)" stroke-width="1"/>
<circle cx="374.2" cy="170.3" r="9.0" fill="rgba(0,0,255,0.37)" stroke="rgba(0,0,255,0.35)" stroke-width="1"/>
<circle cx="374.2" cy="170.3" r="6.8" fill="rgba(51,197,51,0.37)" stroke="rgba(51,197,51,0.35)" stroke-width="1"/>
<circle cx="442.7" cy="170.3" r="8.5" fill="rgba(0,0,255,0.37)" stroke="rgba(0,0,255,0.35)" stroke-width="1"/>
<circle cx="442.7" cy="170.3" r="8.4" fill="rgba(51,197,51,0.37)" stroke="rgba(51,197,51,0.35)" stroke-width="1"/>
<circle cx="511.2" cy="170.3" r="7.3" fill="rgba(0,0,255,0.37)" stroke="rgba(0,0,255,0.35)" stroke-width="1"/>
<circle cx="511.2" cy="170.3" r="8.5" fill="rgba(51,197,51,0.37)" stroke="rgba(51,197,51,0.35)" stroke-width="1"/>
<circle cx="579.7" cy="170.3" r="3.0" fill="rgba(0,0,255,0.37)" stroke="rgba(0,0,255,0.35)" stroke-width="1"/>
<circle cx="579.7" cy="170.3" r="5.5" fill="rgba(51,197,51,0.37)" stroke="rgba(51,197,51,0.35)" stroke-width="1"/>
<circle cx="648.2" cy="170.3" r="10.1" fill="rgba(0,0,255,0.37)" stroke="rgba(0,0,255,0.35)" stroke-width="1"/>
<circle cx="648.2" cy="170.3" r="2.0" fill="rgba(51,197,51,0.37)" stroke="rgba(51,197,51,0.35)" stroke-width="1"/>
<circle cx="716.7" cy="170.3" r="10.4" fill="rgba(0,0,255,0.37)" stroke="rgba(0,0,255,0.35)" stroke-width="1"/>
<circle cx="716.7" cy="170.3" r="9.0" fill="rgba(51,197,51,0.37)" stroke="rgba(51,197,51,0.35)" stroke-width="1"/>
<circle cx="785.2" cy="170.3" r="12.3" fill="rgba(0,0,255,0.37)" stroke="rgba(0,0,255,0.35)" stroke-width="1"/>
<circle cx="785.2" cy="170.3" r="12.2" fill="rgba(51,197,51,0.37)" stroke="rgba(51,197,51,0.35)" stroke-width="1"/>
<circle cx="853.7" cy="170.3" r="9.8" fill="rgba(0,0,255,0.37)" stroke="rgba(0,0,255,0.35)" stroke-width="1"/>
<circle cx="853.7" cy="170.3" r="10.9" fill="rgba(51,197,51,0.37)" stroke="rgba(51,197,51,0.35)" stroke-width="1"/>
</g>
<line x1="237.2" y1="239.6" x2="922.0" y2="239.6" stroke="#ebebeb" stroke-width="1.6"/>
<line x1="237.2" y1="232.6" x2="237.2" y2="246.6" stroke="#ebebeb" stroke-width="1.6"/>
<line x1="922.0" y1="232.6" x2="922.0" y2="246.6" stroke="#ebebeb" stroke-width="1.6"/>
<g filter="url(#soft2)">
<circle cx="237.2" cy="239.6" r="18.1" fill="rgba(51,197,51,0.37)" stroke="rgba(51,197,51,0.35)" stroke-width="1"/>
<circle cx="237.2" cy="239.6" r="15.9" fill="rgba(121,51,255,0.37)" stroke="rgba(121,51,255,0.35)" stroke-width="1"/>
<circle cx="305.7" cy="239.6" r="19.0" fill="rgba(51,197,51,0.37)" stroke="rgba(51,197,51,0.35)" stroke-width="1"/>
<circle cx="305.7" cy="239.6" r="18.9" fill="rgba(121,51,255,0.37)" stroke="rgba(121,51,255,0.35)" stroke-width="1"/>
<circle cx="374.2" cy="239.6" r="19.5" fill="rgba(51,197,51,0.37)" stroke="rgba(51,197,51,0.35)" stroke-width="1"/>
<circle cx="374.2" cy="239.6" r="20.6" fill="rgba(121,51,255,0.37)" stroke="rgba(121,51,255,0.35)" stroke-width="1"/>
<circle cx="442.7" cy="239.6" r="15.5" fill="rgba(51,197,51,0.37)" stroke="rgba(51,197,51,0.35)" stroke-width="1"/>
<circle cx="442.7" cy="239.6" r="17.8" fill="rgba(121,51,255,0.37)" stroke="rgba(121,51,255,0.35)" stroke-width="1"/>
<circle cx="511.2" cy="239.6" r="19.4" fill="rgba(51,197,51,0.37)" stroke="rgba(51,197,51,0.35)" stroke-width="1"/>
<circle cx="511.2" cy="239.6" r="16.3" fill="rgba(121,51,255,0.37)" stroke="rgba(121,51,255,0.35)" stroke-width="1"/>
<circle cx="579.7" cy="239.6" r="19.5" fill="rgba(51,197,51,0.37)" stroke="rgba(51,197,51,0.35)" stroke-width="1"/>
<circle cx="579.7" cy="239.6" r="16.3" fill="rgba(121,51,255,0.37)" stroke="rgba(121,51,255,0.35)" stroke-width="1"/>
<circle cx="648.2" cy="239.6" r="19.7" fill="rgba(51,197,51,0.37)" stroke="rgba(51,197,51,0.35)" stroke-width="1"/>
<circle cx="648.2" cy="239.6" r="16.8" fill="rgba(121,51,255,0.37)" stroke="rgba(121,51,255,0.35)" stroke-width="1"/>
<circle cx="716.7" cy="239.6" r="19.0" fill="rgba(51,197,51,0.37)" stroke="rgba(51,197,51,0.35)" stroke-width="1"/>
<circle cx="716.7" cy="239.6" r="18.3" fill="rgba(121,51,255,0.37)" stroke="rgba(121,51,255,0.35)" stroke-width="1"/>
<circle cx="785.2" cy="239.6" r="18.6" fill="rgba(51,197,51,0.37)" stroke="rgba(51,197,51,0.35)" stroke-width="1"/>
<circle cx="785.2" cy="239.6" r="14.7" fill="rgba(121,51,255,0.37)" stroke="rgba(121,51,255,0.35)" stroke-width="1"/>
<circle cx="853.7" cy="239.6" r="18.9" fill="rgba(51,197,51,0.37)" stroke="rgba(51,197,51,0.35)" stroke-width="1"/>
<circle cx="853.7" cy="239.6" r="16.0" fill="rgba(121,51,255,0.37)" stroke="rgba(121,51,255,0.35)" stroke-width="1"/>
</g>
<line x1="237.2" y1="309.0" x2="922.0" y2="309.0" stroke="#ebebeb" stroke-width="1.6"/>
<line x1="237.2" y1="302.0" x2="237.2" y2="316.0" stroke="#ebebeb" stroke-width="1.6"/>
<line x1="922.0" y1="302.0" x2="922.0" y2="316.0" stroke="#ebebeb" stroke-width="1.6"/>
<g filter="url(#soft2)">
<circle cx="237.2" cy="309.0" r="21.6" fill="rgba(0,0,255,0.37)" stroke="rgba(0,0,255,0.35)" stroke-width="1"/>
<circle cx="237.2" cy="309.0" r="20.5" fill="rgba(121,51,255,0.37)" stroke="rgba(121,51,255,0.35)" stroke-width="1"/>
<circle cx="237.2" cy="309.0" r="20.0" fill="rgba(51,197,51,0.37)" stroke="rgba(51,197,51,0.35)" stroke-width="1"/>
<circle cx="237.2" cy="309.0" r="19.5" fill="rgba(255,0,255,0.37)" stroke="rgba(255,0,255,0.35)" stroke-width="1"/>
<circle cx="305.7" cy="309.0" r="22.4" fill="rgba(0,0,255,0.37)" stroke="rgba(0,0,255,0.35)" stroke-width="1"/>
<circle cx="305.7" cy="309.0" r="19.2" fill="rgba(121,51,255,0.37)" stroke="rgba(121,51,255,0.35)" stroke-width="1"/>
<circle cx="305.7" cy="309.0" r="18.0" fill="rgba(51,197,51,0.37)" stroke="rgba(51,197,51,0.35)" stroke-width="1"/>
<circle cx="305.7" cy="309.0" r="17.5" fill="rgba(255,0,255,0.37)" stroke="rgba(255,0,255,0.35)" stroke-width="1"/>
<circle cx="374.2" cy="309.0" r="23.6" fill="rgba(0,0,255,0.37)" stroke="rgba(0,0,255,0.35)" stroke-width="1"/>
<circle cx="374.2" cy="309.0" r="17.6" fill="rgba(121,51,255,0.37)" stroke="rgba(121,51,255,0.35)" stroke-width="1"/>
<circle cx="374.2" cy="309.0" r="15.8" fill="rgba(51,197,51,0.37)" stroke="rgba(51,197,51,0.35)" stroke-width="1"/>
<circle cx="374.2" cy="309.0" r="14.7" fill="rgba(255,0,255,0.37)" stroke="rgba(255,0,255,0.35)" stroke-width="1"/>
<circle cx="442.7" cy="309.0" r="20.4" fill="rgba(0,0,255,0.37)" stroke="rgba(0,0,255,0.35)" stroke-width="1"/>
<circle cx="442.7" cy="309.0" r="17.5" fill="rgba(121,51,255,0.37)" stroke="rgba(121,51,255,0.35)" stroke-width="1"/>
<circle cx="442.7" cy="309.0" r="17.2" fill="rgba(51,197,51,0.37)" stroke="rgba(51,197,51,0.35)" stroke-width="1"/>
<circle cx="442.7" cy="309.0" r="16.9" fill="rgba(255,0,255,0.37)" stroke="rgba(255,0,255,0.35)" stroke-width="1"/>
<circle cx="511.2" cy="309.0" r="20.8" fill="rgba(0,0,255,0.37)" stroke="rgba(0,0,255,0.35)" stroke-width="1"/>
<circle cx="511.2" cy="309.0" r="18.0" fill="rgba(121,51,255,0.37)" stroke="rgba(121,51,255,0.35)" stroke-width="1"/>
<circle cx="511.2" cy="309.0" r="16.0" fill="rgba(51,197,51,0.37)" stroke="rgba(51,197,51,0.35)" stroke-width="1"/>
<circle cx="511.2" cy="309.0" r="15.6" fill="rgba(255,0,255,0.37)" stroke="rgba(255,0,255,0.35)" stroke-width="1"/>
<circle cx="579.7" cy="309.0" r="19.0" fill="rgba(0,0,255,0.37)" stroke="rgba(0,0,255,0.35)" stroke-width="1"/>
<circle cx="579.7" cy="309.0" r="16.0" fill="rgba(121,51,255,0.37)" stroke="rgba(121,51,255,0.35)" stroke-width="1"/>
<circle cx="579.7" cy="309.0" r="15.4" fill="rgba(51,197,51,0.37)" stroke="rgba(51,197,51,0.35)" stroke-width="1"/>
<circle cx="579.7" cy="309.0" r="12.5" fill="rgba(255,0,255,0.37)" stroke="rgba(255,0,255,0.35)" stroke-width="1"/>
<circle cx="648.2" cy="309.0" r="18.4" fill="rgba(0,0,255,0.37)" stroke="rgba(0,0,255,0.35)" stroke-width="1"/>
<circle cx="648.2" cy="309.0" r="17.5" fill="rgba(121,51,255,0.37)" stroke="rgba(121,51,255,0.35)" stroke-width="1"/>
<circle cx="648.2" cy="309.0" r="18.2" fill="rgba(51,197,51,0.37)" stroke="rgba(51,197,51,0.35)" stroke-width="1"/>
<circle cx="648.2" cy="309.0" r="17.0" fill="rgba(255,0,255,0.37)" stroke="rgba(255,0,255,0.35)" stroke-width="1"/>
<circle cx="716.7" cy="309.0" r="18.3" fill="rgba(0,0,255,0.37)" stroke="rgba(0,0,255,0.35)" stroke-width="1"/>
<circle cx="716.7" cy="309.0" r="16.5" fill="rgba(121,51,255,0.37)" stroke="rgba(121,51,255,0.35)" stroke-width="1"/>
<circle cx="716.7" cy="309.0" r="16.0" fill="rgba(51,197,51,0.37)" stroke="rgba(51,197,51,0.35)" stroke-width="1"/>
<circle cx="716.7" cy="309.0" r="10.1" fill="rgba(255,0,255,0.37)" stroke="rgba(255,0,255,0.35)" stroke-width="1"/>
<circle cx="785.2" cy="309.0" r="18.0" fill="rgba(0,0,255,0.37)" stroke="rgba(0,0,255,0.35)" stroke-width="1"/>
<circle cx="785.2" cy="309.0" r="18.9" fill="rgba(121,51,255,0.37)" stroke="rgba(121,51,255,0.35)" stroke-width="1"/>
<circle cx="785.2" cy="309.0" r="17.7" fill="rgba(51,197,51,0.37)" stroke="rgba(51,197,51,0.35)" stroke-width="1"/>
<circle cx="785.2" cy="309.0" r="12.0" fill="rgba(255,0,255,0.37)" stroke="rgba(255,0,255,0.35)" stroke-width="1"/>
<circle cx="853.7" cy="309.0" r="18.2" fill="rgba(0,0,255,0.37)" stroke="rgba(0,0,255,0.35)" stroke-width="1"/>
<circle cx="853.7" cy="309.0" r="17.8" fill="rgba(121,51,255,0.37)" stroke="rgba(121,51,255,0.35)" stroke-width="1"/>
<circle cx="853.7" cy="309.0" r="15.0" fill="rgba(51,197,51,0.37)" stroke="rgba(51,197,51,0.35)" stroke-width="1"/>
<circle cx="853.7" cy="309.0" r="14.6" fill="rgba(255,0,255,0.37)" stroke="rgba(255,0,255,0.35)" stroke-width="1"/>
</g>
<line x1="237.2" y1="378.3" x2="922.0" y2="378.3" stroke="#ebebeb" stroke-width="1.6"/>
<line x1="237.2" y1="371.3" x2="237.2" y2="385.3" stroke="#ebebeb" stroke-width="1.6"/>
<line x1="922.0" y1="371.3" x2="922.0" y2="385.3" stroke="#ebebeb" stroke-width="1.6"/>
<g filter="url(#soft2)">
<circle cx="237.2" cy="378.3" r="16.0" fill="rgba(0,0,255,0.37)" stroke="rgba(0,0,255,0.35)" stroke-width="1"/>
<circle cx="237.2" cy="378.3" r="20.4" fill="rgba(51,197,51,0.37)" stroke="rgba(51,197,51,0.35)" stroke-width="1"/>
<circle cx="237.2" cy="378.3" r="18.5" fill="rgba(255,0,255,0.37)" stroke="rgba(255,0,255,0.35)" stroke-width="1"/>
<circle cx="237.2" cy="378.3" r="16.5" fill="rgba(121,51,255,0.37)" stroke="rgba(121,51,255,0.35)" stroke-width="1"/>
<circle cx="237.2" cy="378.3" r="15.3" fill="rgba(0,255,255,0.37)" stroke="rgba(0,255,255,0.35)" stroke-width="1"/>
<circle cx="305.7" cy="378.3" r="19.5" fill="rgba(0,0,255,0.37)" stroke="rgba(0,0,255,0.35)" stroke-width="1"/>
<circle cx="305.7" cy="378.3" r="17.5" fill="rgba(51,197,51,0.37)" stroke="rgba(51,197,51,0.35)" stroke-width="1"/>
<circle cx="305.7" cy="378.3" r="21.1" fill="rgba(255,0,255,0.37)" stroke="rgba(255,0,255,0.35)" stroke-width="1"/>
<circle cx="305.7" cy="378.3" r="20.0" fill="rgba(121,51,255,0.37)" stroke="rgba(121,51,255,0.35)" stroke-width="1"/>
<circle cx="305.7" cy="378.3" r="16.9" fill="rgba(0,255,255,0.37)" stroke="rgba(0,255,255,0.35)" stroke-width="1"/>
<circle cx="374.2" cy="378.3" r="20.4" fill="rgba(0,0,255,0.37)" stroke="rgba(0,0,255,0.35)" stroke-width="1"/>
<circle cx="374.2" cy="378.3" r="16.2" fill="rgba(51,197,51,0.37)" stroke="rgba(51,197,51,0.35)" stroke-width="1"/>
<circle cx="374.2" cy="378.3" r="16.2" fill="rgba(255,0,255,0.37)" stroke="rgba(255,0,255,0.35)" stroke-width="1"/>
<circle cx="374.2" cy="378.3" r="16.6" fill="rgba(121,51,255,0.37)" stroke="rgba(121,51,255,0.35)" stroke-width="1"/>
<circle cx="374.2" cy="378.3" r="15.8" fill="rgba(0,255,255,0.37)" stroke="rgba(0,255,255,0.35)" stroke-width="1"/>
<circle cx="442.7" cy="378.3" r="20.0" fill="rgba(0,0,255,0.37)" stroke="rgba(0,0,255,0.35)" stroke-width="1"/>
<circle cx="442.7" cy="378.3" r="17.0" fill="rgba(51,197,51,0.37)" stroke="rgba(51,197,51,0.35)" stroke-width="1"/>
<circle cx="442.7" cy="378.3" r="17.5" fill="rgba(255,0,255,0.37)" stroke="rgba(255,0,255,0.35)" stroke-width="1"/>
<circle cx="442.7" cy="378.3" r="18.5" fill="rgba(121,51,255,0.37)" stroke="rgba(121,51,255,0.35)" stroke-width="1"/>
<circle cx="442.7" cy="378.3" r="16.5" fill="rgba(0,255,255,0.37)" stroke="rgba(0,255,255,0.35)" stroke-width="1"/>
<circle cx="511.2" cy="378.3" r="17.2" fill="rgba(0,0,255,0.37)" stroke="rgba(0,0,255,0.35)" stroke-width="1"/>
<circle cx="511.2" cy="378.3" r="18.1" fill="rgba(51,197,51,0.37)" stroke="rgba(51,197,51,0.35)" stroke-width="1"/>
<circle cx="511.2" cy="378.3" r="17.8" fill="rgba(255,0,255,0.37)" stroke="rgba(255,0,255,0.35)" stroke-width="1"/>
<circle cx="511.2" cy="378.3" r="17.5" fill="rgba(121,51,255,0.37)" stroke="rgba(121,51,255,0.35)" stroke-width="1"/>
<circle cx="511.2" cy="378.3" r="17.0" fill="rgba(0,255,255,0.37)" stroke="rgba(0,255,255,0.35)" stroke-width="1"/>
<circle cx="579.7" cy="378.3" r="18.0" fill="rgba(0,0,255,0.37)" stroke="rgba(0,0,255,0.35)" stroke-width="1"/>
<circle cx="579.7" cy="378.3" r="17.6" fill="rgba(51,197,51,0.37)" stroke="rgba(51,197,51,0.35)" stroke-width="1"/>
<circle cx="579.7" cy="378.3" r="18.5" fill="rgba(255,0,255,0.37)" stroke="rgba(255,0,255,0.35)" stroke-width="1"/>
<circle cx="579.7" cy="378.3" r="17.8" fill="rgba(121,51,255,0.37)" stroke="rgba(121,51,255,0.35)" stroke-width="1"/>
<circle cx="579.7" cy="378.3" r="17.5" fill="rgba(0,255,255,0.37)" stroke="rgba(0,255,255,0.35)" stroke-width="1"/>
<circle cx="648.2" cy="378.3" r="18.0" fill="rgba(0,0,255,0.37)" stroke="rgba(0,0,255,0.35)" stroke-width="1"/>
<circle cx="648.2" cy="378.3" r="16.5" fill="rgba(51,197,51,0.37)" stroke="rgba(51,197,51,0.35)" stroke-width="1"/>
<circle cx="648.2" cy="378.3" r="17.0" fill="rgba(255,0,255,0.37)" stroke="rgba(255,0,255,0.35)" stroke-width="1"/>
<circle cx="648.2" cy="378.3" r="19.6" fill="rgba(121,51,255,0.37)" stroke="rgba(121,51,255,0.35)" stroke-width="1"/>
<circle cx="648.2" cy="378.3" r="16.0" fill="rgba(0,255,255,0.37)" stroke="rgba(0,255,255,0.35)" stroke-width="1"/>
<circle cx="716.7" cy="378.3" r="16.0" fill="rgba(0,0,255,0.37)" stroke="rgba(0,0,255,0.35)" stroke-width="1"/>
<circle cx="716.7" cy="378.3" r="15.0" fill="rgba(51,197,51,0.37)" stroke="rgba(51,197,51,0.35)" stroke-width="1"/>
<circle cx="716.7" cy="378.3" r="15.3" fill="rgba(255,0,255,0.37)" stroke="rgba(255,0,255,0.35)" stroke-width="1"/>
<circle cx="716.7" cy="378.3" r="15.6" fill="rgba(121,51,255,0.37)" stroke="rgba(121,51,255,0.35)" stroke-width="1"/>
<circle cx="716.7" cy="378.3" r="16.8" fill="rgba(0,255,255,0.37)" stroke="rgba(0,255,255,0.35)" stroke-width="1"/>
<circle cx="785.2" cy="378.3" r="17.1" fill="rgba(0,0,255,0.37)" stroke="rgba(0,0,255,0.35)" stroke-width="1"/>
<circle cx="785.2" cy="378.3" r="14.0" fill="rgba(51,197,51,0.37)" stroke="rgba(51,197,51,0.35)" stroke-width="1"/>
<circle cx="785.2" cy="378.3" r="14.5" fill="rgba(255,0,255,0.37)" stroke="rgba(255,0,255,0.35)" stroke-width="1"/>
<circle cx="785.2" cy="378.3" r="16.5" fill="rgba(121,51,255,0.37)" stroke="rgba(121,51,255,0.35)" stroke-width="1"/>
<circle cx="785.2" cy="378.3" r="15.5" fill="rgba(0,255,255,0.37)" stroke="rgba(0,255,255,0.35)" stroke-width="1"/>
<circle cx="853.7" cy="378.3" r="17.0" fill="rgba(0,0,255,0.37)" stroke="rgba(0,0,255,0.35)" stroke-width="1"/>
<circle cx="853.7" cy="378.3" r="18.2" fill="rgba(51,197,51,0.37)" stroke="rgba(51,197,51,0.35)" stroke-width="1"/>
<circle cx="853.7" cy="378.3" r="16.6" fill="rgba(255,0,255,0.37)" stroke="rgba(255,0,255,0.35)" stroke-width="1"/>
<circle cx="853.7" cy="378.3" r="16.8" fill="rgba(121,51,255,0.37)" stroke="rgba(121,51,255,0.35)" stroke-width="1"/>
<circle cx="853.7" cy="378.3" r="16.5" fill="rgba(0,255,255,0.37)" stroke="rgba(0,255,255,0.35)" stroke-width="1"/>
</g></svg>
<div class="lbl" style="right:772.0px;top:97.5px;font-size:13.1px;line-height:16px;transform:scaleX(1.07)">1790 Love and Freindship</div>
<div class="val" style="left:928.0px;top:96.5px;font-size:11.5px;line-height:14px">99</div>
<div class="lbl" style="right:772.0px;top:166.8px;font-size:13.1px;line-height:16px;transform:scaleX(1.063)">1793 Lady Susan</div>
<div class="val" style="left:928.0px;top:165.8px;font-size:11.5px;line-height:14px">138</div>
<div class="lbl" style="right:772.0px;top:236.1px;font-size:13.1px;line-height:16px;transform:scaleX(1.051)">1811 Sense and Sensibilit...</div>
<div class="val" style="left:928.0px;top:235.1px;font-size:11.5px;line-height:14px">927</div>
<div class="lbl" style="right:772.0px;top:305.5px;font-size:13.1px;line-height:16px;transform:scaleX(1.066)">1813 Pride and Prejudice</div>
<div class="val" style="left:928.0px;top:304.5px;font-size:11.5px;line-height:14px">1812</div>
<div class="lbl" style="right:772.0px;top:374.8px;font-size:13.1px;line-height:16px;transform:scaleX(1.063)">1814 Mansfield Park</div>
<div class="val" style="left:928.0px;top:373.8px;font-size:11.5px;line-height:14px">1531</div>
</div>
<div class="ring" id="r1" style="left:37px;top:87px">300</div>
<div class="ring" id="r2" style="left:600px;top:347px">10</div>
</body></html>
